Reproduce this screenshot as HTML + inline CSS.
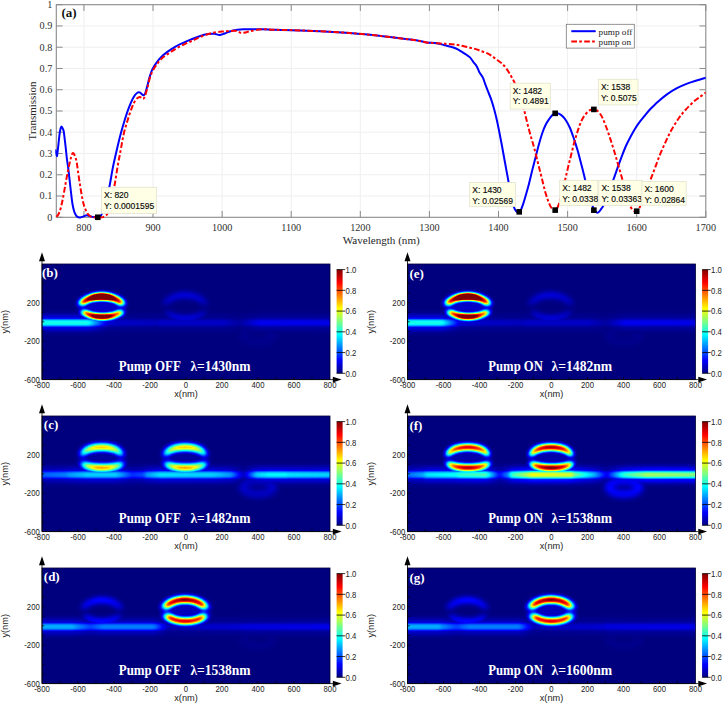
<!DOCTYPE html><html><head><meta charset="utf-8"><style>html,body{margin:0;padding:0;background:#fff;}svg{display:block;}</style></head><body>
<svg width="723" height="705" viewBox="0 0 723 705">
<defs><clipPath id="axclip"><rect x="55.30" y="4.70" width="650.50" height="214.60"/></clipPath>
<filter id="jet" color-interpolation-filters="sRGB" x="0" y="0" width="1" height="1">
<feComponentTransfer>
<feFuncR type="table" tableValues="0 0 0 0 0.5 1 1 1 0.5"/>
<feFuncG type="table" tableValues="0 0 0.5 1 1 1 0.5 0 0"/>
<feFuncB type="table" tableValues="0.5 1 1 1 0.5 0 0 0 0"/>
</feComponentTransfer></filter>
<filter id="bl1_2" color-interpolation-filters="sRGB" x="-30%" y="-60%" width="160%" height="220%"><feGaussianBlur stdDeviation="1.20"/></filter>
<filter id="bl1_4" color-interpolation-filters="sRGB" x="-30%" y="-60%" width="160%" height="220%"><feGaussianBlur stdDeviation="1.40"/></filter>
<filter id="bl1_6" color-interpolation-filters="sRGB" x="-30%" y="-60%" width="160%" height="220%"><feGaussianBlur stdDeviation="1.60"/></filter>
<filter id="bl2_0" color-interpolation-filters="sRGB" x="-30%" y="-60%" width="160%" height="220%"><feGaussianBlur stdDeviation="2.00"/></filter>
<filter id="bl2_5" color-interpolation-filters="sRGB" x="-30%" y="-60%" width="160%" height="220%"><feGaussianBlur stdDeviation="2.50"/></filter>
<filter id="g3" color-interpolation-filters="sRGB" x="-40%" y="-80%" width="180%" height="260%"><feGaussianBlur in="SourceGraphic" stdDeviation="2.00" result="b"/><feFlood flood-color="#000" result="k"/><feComposite in="b" in2="k" operator="over" result="m"/><feComponentTransfer in="m"><feFuncR type="linear" slope="3.000"/><feFuncG type="linear" slope="3.000"/><feFuncB type="linear" slope="3.000"/></feComponentTransfer></filter>
<filter id="g3b" color-interpolation-filters="sRGB" x="-40%" y="-80%" width="180%" height="260%"><feGaussianBlur in="SourceGraphic" stdDeviation="2.40" result="b"/><feFlood flood-color="#000" result="k"/><feComposite in="b" in2="k" operator="over" result="m"/><feComponentTransfer in="m"><feFuncR type="linear" slope="3.000"/><feFuncG type="linear" slope="3.000"/><feFuncB type="linear" slope="3.000"/></feComponentTransfer></filter>
<filter id="gf" color-interpolation-filters="sRGB" x="-40%" y="-80%" width="180%" height="260%"><feGaussianBlur in="SourceGraphic" stdDeviation="2.60" result="b"/><feFlood flood-color="#000" result="k"/><feComposite in="b" in2="k" operator="over" result="m"/><feComponentTransfer in="m"><feFuncR type="linear" slope="1.000"/><feFuncG type="linear" slope="1.000"/><feFuncB type="linear" slope="1.000"/></feComponentTransfer></filter>
<filter id="g1" color-interpolation-filters="sRGB" x="-40%" y="-80%" width="180%" height="260%"><feGaussianBlur in="SourceGraphic" stdDeviation="1.40" result="b"/><feFlood flood-color="#000" result="k"/><feComposite in="b" in2="k" operator="over" result="m"/><feComponentTransfer in="m"><feFuncR type="linear" slope="1.000"/><feFuncG type="linear" slope="1.000"/><feFuncB type="linear" slope="1.000"/></feComponentTransfer></filter>
<filter id="gr3" color-interpolation-filters="sRGB" x="-40%" y="-80%" width="180%" height="260%"><feGaussianBlur in="SourceGraphic" stdDeviation="3.00" result="b"/><feFlood flood-color="#000" result="k"/><feComposite in="b" in2="k" operator="over" result="m"/><feComponentTransfer in="m"><feFuncR type="linear" slope="1.000"/><feFuncG type="linear" slope="1.000"/><feFuncB type="linear" slope="1.000"/></feComponentTransfer></filter>
<linearGradient id="jetgrad" x1="0" y1="0" x2="0" y2="1"><stop offset="0.000" stop-color="#800000"/><stop offset="0.125" stop-color="#ff0000"/><stop offset="0.375" stop-color="#ffff00"/><stop offset="0.500" stop-color="#80ff80"/><stop offset="0.625" stop-color="#00ffff"/><stop offset="0.875" stop-color="#0000ff"/><stop offset="1.000" stop-color="#000080"/></linearGradient></defs>
<rect width="723" height="705" fill="#fff"/>
<path d="M83.94,4.70V217.30 M153.03,4.70V217.30 M222.13,4.70V217.30 M291.23,4.70V217.30 M360.32,4.70V217.30 M429.42,4.70V217.30 M498.51,4.70V217.30 M567.61,4.70V217.30 M636.70,4.70V217.30 M56.30,196.04H705.80 M56.30,174.78H705.80 M56.30,153.52H705.80 M56.30,132.26H705.80 M56.30,111.00H705.80 M56.30,89.74H705.80 M56.30,68.48H705.80 M56.30,47.22H705.80 M56.30,25.96H705.80" stroke="#efefef" stroke-width="1" fill="none"/>
<path d="M83.94,217.30v-6.3 M83.94,4.70v6.3 M153.03,217.30v-6.3 M153.03,4.70v6.3 M222.13,217.30v-6.3 M222.13,4.70v6.3 M291.23,217.30v-6.3 M291.23,4.70v6.3 M360.32,217.30v-6.3 M360.32,4.70v6.3 M429.42,217.30v-6.3 M429.42,4.70v6.3 M498.51,217.30v-6.3 M498.51,4.70v6.3 M567.61,217.30v-6.3 M567.61,4.70v6.3 M636.70,217.30v-6.3 M636.70,4.70v6.3 M705.80,217.30v-6.3 M705.80,4.70v6.3 M56.30,217.30h6.3 M705.80,217.30h-6.3 M56.30,196.04h6.3 M705.80,196.04h-6.3 M56.30,174.78h6.3 M705.80,174.78h-6.3 M56.30,153.52h6.3 M705.80,153.52h-6.3 M56.30,132.26h6.3 M705.80,132.26h-6.3 M56.30,111.00h6.3 M705.80,111.00h-6.3 M56.30,89.74h6.3 M705.80,89.74h-6.3 M56.30,68.48h6.3 M705.80,68.48h-6.3 M56.30,47.22h6.3 M705.80,47.22h-6.3 M56.30,25.96h6.3 M705.80,25.96h-6.3 M56.30,4.70h6.3 M705.80,4.70h-6.3" stroke="#8a8a8a" stroke-width="1" fill="none"/>
<rect x="56.30" y="4.70" width="649.50" height="212.60" fill="none" stroke="#8a8a8a" stroke-width="1.1"/>
<g font-family="Liberation Serif" font-size="10.2" fill="#2e2e2e"><text x="83.94" y="230.5" text-anchor="middle">800</text><text x="153.03" y="230.5" text-anchor="middle">900</text><text x="222.13" y="230.5" text-anchor="middle">1000</text><text x="291.23" y="230.5" text-anchor="middle">1100</text><text x="360.32" y="230.5" text-anchor="middle">1200</text><text x="429.42" y="230.5" text-anchor="middle">1300</text><text x="498.51" y="230.5" text-anchor="middle">1400</text><text x="567.61" y="230.5" text-anchor="middle">1500</text><text x="636.70" y="230.5" text-anchor="middle">1600</text><text x="705.80" y="230.5" text-anchor="middle">1700</text><text x="52.3" y="220.70" text-anchor="end">0</text><text x="52.3" y="199.44" text-anchor="end">0.1</text><text x="52.3" y="178.18" text-anchor="end">0.2</text><text x="52.3" y="156.92" text-anchor="end">0.3</text><text x="52.3" y="135.66" text-anchor="end">0.4</text><text x="52.3" y="114.40" text-anchor="end">0.5</text><text x="52.3" y="93.14" text-anchor="end">0.6</text><text x="52.3" y="71.88" text-anchor="end">0.7</text><text x="52.3" y="50.62" text-anchor="end">0.8</text><text x="52.3" y="29.36" text-anchor="end">0.9</text><text x="52.3" y="8.10" text-anchor="end">1</text></g>
<text x="381.2" y="244.3" text-anchor="middle" font-family="Liberation Serif" font-size="11.1" fill="#262626">Wavelength (nm)</text>
<text transform="translate(35.6,111) rotate(-90)" text-anchor="middle" font-family="Liberation Serif" font-size="11" fill="#262626">Transmission</text>
<text x="61.5" y="16.7" font-family="Liberation Serif" font-weight="bold" font-size="13" fill="#111">(a)</text>
<g clip-path="url(#axclip)">
<path d="M55.30,149.50 C55.55,150.63 56.38,156.22 56.80,156.30 C57.22,156.38 57.47,152.55 57.80,150.00 C58.13,147.45 58.43,144.17 58.80,141.00 C59.17,137.83 59.58,133.38 60.00,131.00 C60.42,128.62 60.87,127.15 61.30,126.70 C61.73,126.25 62.20,127.53 62.60,128.30 C63.00,129.07 63.33,129.38 63.70,131.30 C64.07,133.22 64.45,136.97 64.80,139.80 C65.15,142.63 65.45,145.10 65.80,148.30 C66.15,151.50 66.48,155.62 66.90,159.00 C67.32,162.38 67.70,163.77 68.30,168.60 C68.90,173.43 69.82,182.18 70.50,188.00 C71.18,193.82 71.78,199.58 72.40,203.50 C73.02,207.42 73.55,209.45 74.20,211.50 C74.85,213.55 75.57,214.83 76.30,215.80 C77.03,216.77 77.90,217.03 78.60,217.30 C79.30,217.57 79.77,217.52 80.50,217.40 C81.23,217.28 81.95,216.95 83.00,216.60 C84.05,216.25 85.63,215.37 86.80,215.30 C87.97,215.23 88.80,215.90 90.00,216.20 C91.20,216.50 92.67,216.92 94.00,217.10 C95.33,217.28 97.00,217.40 98.00,217.30 C99.00,217.20 99.33,217.13 100.00,216.50 C100.67,215.87 101.08,215.92 102.00,213.50 C102.92,211.08 104.28,206.37 105.50,202.00 C106.72,197.63 108.07,193.07 109.30,187.30 C110.53,181.53 111.63,173.70 112.90,167.40 C114.17,161.10 115.58,155.13 116.90,149.50 C118.22,143.87 119.48,138.57 120.80,133.60 C122.12,128.63 123.47,124.00 124.80,119.70 C126.13,115.40 127.32,111.60 128.80,107.80 C130.28,104.00 132.22,99.45 133.70,96.90 C135.18,94.35 136.65,93.22 137.70,92.50 C138.75,91.78 139.08,92.15 140.00,92.60 C140.92,93.05 142.32,95.12 143.20,95.20 C144.08,95.28 144.60,94.70 145.30,93.10 C146.00,91.50 146.68,88.27 147.40,85.60 C148.12,82.93 148.80,79.75 149.60,77.10 C150.40,74.45 151.13,72.00 152.20,69.70 C153.27,67.40 154.48,65.43 156.00,63.30 C157.52,61.17 159.35,58.85 161.30,56.90 C163.25,54.95 165.40,53.28 167.70,51.60 C170.00,49.92 172.62,48.22 175.10,46.80 C177.58,45.38 179.93,44.33 182.60,43.10 C185.27,41.87 188.27,40.55 191.10,39.40 C193.93,38.25 196.77,37.08 199.60,36.20 C202.43,35.32 205.65,34.52 208.10,34.10 C210.55,33.68 212.40,33.53 214.30,33.70 C216.20,33.87 217.77,35.13 219.50,35.10 C221.23,35.07 222.45,34.28 224.70,33.50 C226.95,32.72 229.88,31.10 233.00,30.40 C236.12,29.70 238.57,29.48 243.40,29.30 C248.23,29.12 256.82,29.22 262.00,29.30 C267.18,29.38 268.17,29.62 274.50,29.80 C280.83,29.98 288.83,29.97 300.00,30.40 C311.17,30.83 331.13,31.78 341.50,32.40 C351.87,33.02 355.28,33.47 362.20,34.10 C369.12,34.73 376.08,35.43 383.00,36.20 C389.92,36.97 398.17,38.02 403.70,38.70 C409.23,39.38 412.38,39.68 416.20,40.30 C420.02,40.92 423.15,41.92 426.60,42.40 C430.05,42.88 433.83,42.72 436.90,43.20 C439.97,43.68 442.65,44.70 445.00,45.30 C447.35,45.90 449.17,46.27 451.00,46.80 C452.83,47.33 454.23,47.70 456.00,48.50 C457.77,49.30 459.93,50.60 461.60,51.60 C463.27,52.60 464.60,53.53 466.00,54.50 C467.40,55.47 468.77,56.13 470.00,57.40 C471.23,58.67 472.27,60.60 473.40,62.10 C474.53,63.60 475.80,64.70 476.80,66.40 C477.80,68.10 478.40,70.47 479.40,72.30 C480.40,74.13 481.82,75.40 482.80,77.40 C483.78,79.40 484.45,82.02 485.30,84.30 C486.15,86.58 486.97,88.70 487.90,91.10 C488.83,93.50 489.92,95.88 490.90,98.70 C491.88,101.52 492.85,104.62 493.80,108.00 C494.75,111.38 495.68,115.00 496.60,119.00 C497.52,123.00 498.40,127.50 499.30,132.00 C500.20,136.50 501.10,141.17 502.00,146.00 C502.90,150.83 503.80,156.07 504.70,161.00 C505.60,165.93 506.52,170.77 507.40,175.60 C508.28,180.43 509.18,185.50 510.00,190.00 C510.82,194.50 511.47,199.35 512.30,202.60 C513.13,205.85 514.13,207.90 515.00,209.50 C515.87,211.10 516.70,211.82 517.50,212.20 C518.30,212.58 519.13,212.42 519.80,211.80 C520.47,211.18 520.87,210.03 521.50,208.50 C522.13,206.97 522.80,205.10 523.60,202.60 C524.40,200.10 525.40,196.65 526.30,193.50 C527.20,190.35 528.00,187.62 529.00,183.70 C530.00,179.78 531.18,174.48 532.30,170.00 C533.42,165.52 534.58,161.13 535.70,156.80 C536.82,152.47 537.87,148.05 539.00,144.00 C540.13,139.95 541.37,135.75 542.50,132.50 C543.63,129.25 544.68,126.75 545.80,124.50 C546.92,122.25 548.13,120.55 549.20,119.00 C550.27,117.45 551.20,116.15 552.20,115.20 C553.20,114.25 554.10,113.57 555.20,113.30 C556.30,113.03 557.48,113.03 558.80,113.60 C560.12,114.17 561.80,115.38 563.10,116.70 C564.40,118.02 565.45,119.62 566.60,121.50 C567.75,123.38 568.97,125.67 570.00,128.00 C571.03,130.33 571.87,132.85 572.80,135.50 C573.73,138.15 574.73,141.18 575.60,143.90 C576.47,146.62 577.25,149.15 578.00,151.80 C578.75,154.45 579.37,157.02 580.10,159.80 C580.83,162.58 581.63,165.48 582.40,168.50 C583.17,171.52 583.92,174.73 584.70,177.90 C585.48,181.07 586.30,184.40 587.10,187.50 C587.90,190.60 588.68,193.67 589.50,196.50 C590.32,199.33 591.22,202.28 592.00,204.50 C592.78,206.72 593.45,208.47 594.20,209.80 C594.95,211.13 595.78,212.10 596.50,212.50 C597.22,212.90 597.78,212.70 598.50,212.20 C599.22,211.70 599.93,210.73 600.80,209.50 C601.67,208.27 602.50,207.55 603.70,204.80 C604.90,202.05 606.38,197.18 608.00,193.00 C609.62,188.82 611.75,184.07 613.40,179.70 C615.05,175.33 616.58,170.48 617.90,166.80 C619.22,163.12 619.97,161.07 621.30,157.60 C622.63,154.13 624.38,149.43 625.90,146.00 C627.42,142.57 628.90,139.83 630.40,137.00 C631.90,134.17 633.38,131.47 634.90,129.00 C636.42,126.53 637.98,124.28 639.50,122.20 C641.02,120.12 642.30,118.58 644.00,116.50 C645.70,114.42 647.80,111.77 649.70,109.70 C651.60,107.63 653.68,105.70 655.40,104.10 C657.12,102.50 658.13,101.68 660.00,100.10 C661.87,98.52 663.78,96.58 666.60,94.60 C669.42,92.62 673.48,90.03 676.90,88.20 C680.32,86.37 683.70,84.93 687.10,83.60 C690.50,82.27 694.18,81.18 697.30,80.20 C700.42,79.22 704.38,78.12 705.80,77.70" stroke="#0000ff" stroke-width="2" fill="none" stroke-linejoin="round"/>
<path d="M56.30,216.80 C56.62,216.47 57.50,216.10 58.20,214.80 C58.90,213.50 59.72,211.73 60.50,209.00 C61.28,206.27 62.07,202.57 62.90,198.40 C63.73,194.23 64.63,188.73 65.50,184.00 C66.37,179.27 67.33,173.82 68.10,170.00 C68.87,166.18 69.57,163.35 70.10,161.10 C70.63,158.85 70.88,157.82 71.30,156.50 C71.72,155.18 72.18,153.68 72.60,153.20 C73.02,152.72 73.42,153.13 73.80,153.60 C74.18,154.07 74.45,154.75 74.90,156.00 C75.35,157.25 76.02,158.77 76.50,161.10 C76.98,163.43 77.22,166.02 77.80,170.00 C78.38,173.98 79.25,180.27 80.00,185.00 C80.75,189.73 81.55,194.73 82.30,198.40 C83.05,202.07 83.63,204.48 84.50,207.00 C85.37,209.52 86.58,212.00 87.50,213.50 C88.42,215.00 89.13,215.38 90.00,216.00 C90.87,216.62 91.70,216.95 92.70,217.20 C93.70,217.45 94.78,217.45 96.00,217.50 C97.22,217.55 98.83,217.57 100.00,217.50 C101.17,217.43 102.08,217.38 103.00,217.10 C103.92,216.82 104.68,216.47 105.50,215.80 C106.32,215.13 107.15,214.57 107.90,213.10 C108.65,211.63 109.33,209.32 110.00,207.00 C110.67,204.68 111.08,203.15 111.90,199.20 C112.72,195.25 113.92,188.93 114.90,183.30 C115.88,177.67 116.82,171.03 117.80,165.40 C118.78,159.77 119.80,154.80 120.80,149.50 C121.80,144.20 122.63,138.57 123.80,133.60 C124.97,128.63 126.47,124.00 127.80,119.70 C129.13,115.40 130.48,111.10 131.80,107.80 C133.12,104.50 134.38,101.72 135.70,99.90 C137.02,98.08 138.53,97.07 139.70,96.90 C140.87,96.73 141.87,98.90 142.70,98.90 C143.53,98.90 143.92,98.75 144.70,96.90 C145.48,95.05 146.50,91.10 147.40,87.80 C148.30,84.50 149.12,80.12 150.10,77.10 C151.08,74.08 152.05,72.00 153.30,69.70 C154.55,67.40 156.10,65.25 157.60,63.30 C159.10,61.35 160.27,59.77 162.30,58.00 C164.33,56.23 167.32,54.38 169.80,52.70 C172.28,51.02 174.55,49.42 177.20,47.90 C179.85,46.38 183.03,44.85 185.70,43.60 C188.37,42.35 190.88,41.47 193.20,40.40 C195.52,39.33 196.43,38.45 199.60,37.20 C202.77,35.95 208.02,33.87 212.20,32.90 C216.38,31.93 220.90,31.75 224.70,31.40 C228.50,31.05 232.70,30.73 235.00,30.80 C237.30,30.87 237.45,31.45 238.50,31.80 C239.55,32.15 240.22,32.77 241.30,32.90 C242.38,33.03 243.62,32.85 245.00,32.60 C246.38,32.35 246.77,31.95 249.60,31.40 C252.43,30.85 257.85,29.57 262.00,29.30 C266.15,29.03 268.17,29.62 274.50,29.80 C280.83,29.98 288.83,29.97 300.00,30.40 C311.17,30.83 331.13,31.78 341.50,32.40 C351.87,33.02 355.28,33.47 362.20,34.10 C369.12,34.73 376.08,35.43 383.00,36.20 C389.92,36.97 398.17,38.02 403.70,38.70 C409.23,39.38 412.38,39.68 416.20,40.30 C420.02,40.92 423.15,41.92 426.60,42.40 C430.05,42.88 433.45,42.95 436.90,43.20 C440.35,43.45 444.08,43.63 447.30,43.90 C450.52,44.17 453.58,44.45 456.20,44.80 C458.82,45.15 460.70,45.52 463.00,46.00 C465.30,46.48 467.98,47.22 470.00,47.70 C472.02,48.18 473.25,48.33 475.10,48.90 C476.95,49.47 479.12,50.38 481.10,51.10 C483.08,51.82 485.17,52.35 487.00,53.20 C488.83,54.05 490.40,55.07 492.10,56.20 C493.80,57.33 495.50,58.73 497.20,60.00 C498.90,61.27 500.73,62.32 502.30,63.80 C503.87,65.28 505.17,66.92 506.60,68.90 C508.03,70.88 509.67,73.60 510.90,75.70 C512.13,77.80 512.98,79.28 514.00,81.50 C515.02,83.72 515.95,86.25 517.00,89.00 C518.05,91.75 519.20,94.80 520.30,98.00 C521.40,101.20 522.60,104.70 523.60,108.20 C524.60,111.70 525.40,115.40 526.30,119.00 C527.20,122.60 528.10,126.42 529.00,129.80 C529.90,133.18 530.80,136.15 531.70,139.30 C532.60,142.45 533.50,145.33 534.40,148.70 C535.30,152.07 536.20,155.92 537.10,159.50 C538.00,163.08 538.90,166.62 539.80,170.20 C540.70,173.78 541.60,177.40 542.50,181.00 C543.40,184.60 544.28,188.55 545.20,191.80 C546.12,195.05 547.10,198.03 548.00,200.50 C548.90,202.97 549.77,205.08 550.60,206.60 C551.43,208.12 552.23,208.98 553.00,209.60 C553.77,210.22 554.45,210.65 555.20,210.30 C555.95,209.95 556.55,209.55 557.50,207.50 C558.45,205.45 559.77,202.00 560.90,198.00 C562.03,194.00 563.17,188.37 564.30,183.50 C565.43,178.63 566.57,173.55 567.70,168.80 C568.83,164.05 569.97,159.53 571.10,155.00 C572.23,150.47 573.37,145.70 574.50,141.60 C575.63,137.50 576.77,133.80 577.90,130.40 C579.03,127.00 580.17,123.72 581.30,121.20 C582.43,118.68 583.57,116.92 584.70,115.30 C585.83,113.68 587.05,112.45 588.10,111.50 C589.15,110.55 590.05,109.98 591.00,109.60 C591.95,109.22 592.80,109.05 593.80,109.20 C594.80,109.35 595.87,109.62 597.00,110.50 C598.13,111.38 599.57,113.00 600.60,114.50 C601.63,116.00 602.33,117.58 603.20,119.50 C604.07,121.42 604.97,123.83 605.80,126.00 C606.63,128.17 607.42,130.27 608.20,132.50 C608.98,134.73 609.72,136.98 610.50,139.40 C611.28,141.82 612.10,144.43 612.90,147.00 C613.70,149.57 614.58,152.38 615.30,154.80 C616.02,157.22 616.55,159.27 617.20,161.50 C617.85,163.73 618.55,165.97 619.20,168.20 C619.85,170.43 620.47,172.67 621.10,174.90 C621.73,177.13 622.20,178.72 623.00,181.60 C623.80,184.48 624.93,188.68 625.90,192.20 C626.87,195.72 627.85,199.98 628.80,202.70 C629.75,205.42 630.65,207.07 631.60,208.50 C632.55,209.93 633.68,210.80 634.50,211.30 C635.32,211.80 635.83,211.72 636.50,211.50 C637.17,211.28 637.75,211.25 638.50,210.00 C639.25,208.75 640.00,206.50 641.00,204.00 C642.00,201.50 643.03,198.73 644.50,195.00 C645.97,191.27 648.10,185.98 649.80,181.60 C651.50,177.22 653.03,173.12 654.70,168.70 C656.37,164.28 657.95,159.63 659.80,155.10 C661.65,150.57 663.82,145.75 665.80,141.50 C667.78,137.25 669.57,133.43 671.70,129.60 C673.83,125.77 676.32,121.77 678.60,118.50 C680.88,115.23 682.85,112.83 685.40,110.00 C687.95,107.17 691.35,103.77 693.90,101.50 C696.45,99.23 698.72,97.90 700.70,96.40 C702.68,94.90 704.95,93.15 705.80,92.50" stroke="#ff0000" stroke-width="2" fill="none" stroke-dasharray="5.7 2.2 2.7 2.3"/>
</g>
<rect x="566.3" y="24.3" width="68" height="23.8" fill="#fff" stroke="#7a7a7a" stroke-width="0.8"/>
<path d="M571.3,31.2H595.7" stroke="#0000ff" stroke-width="2"/>
<path d="M571.3,41.6H595.7" stroke="#ff0000" stroke-width="2" stroke-dasharray="5.7 2.2 2.7 2.3"/>
<g font-family="Liberation Serif" font-size="9.2" fill="#222"><text x="598.6" y="34.5">pump off</text><text x="598.6" y="45">pump on</text></g>
<rect x="101.40" y="187.30" width="55.20" height="26.10" fill="#ffffe6" stroke="#e3e3cf" stroke-width="0.8"/>
<g font-family="Liberation Sans" font-size="8.5" fill="#0a0a0a" stroke="#0a0a0a" stroke-width="0.15"><text x="104.00" y="197.90">X: 820</text><text x="104.00" y="208.50">Y: 0.0001595</text></g>
<rect x="469.70" y="182.40" width="45.80" height="24.20" fill="#ffffe6" stroke="#e3e3cf" stroke-width="0.8"/>
<g font-family="Liberation Sans" font-size="8.5" fill="#0a0a0a" stroke="#0a0a0a" stroke-width="0.15"><text x="472.30" y="193.00">X: 1430</text><text x="472.30" y="203.60">Y: 0.02569</text></g>
<rect x="510.20" y="83.20" width="40.10" height="25.90" fill="#ffffe6" stroke="#e3e3cf" stroke-width="0.8"/>
<g font-family="Liberation Sans" font-size="8.5" fill="#0a0a0a" stroke="#0a0a0a" stroke-width="0.15"><text x="512.80" y="93.80">X: 1482</text><text x="512.80" y="104.40">Y: 0.4891</text></g>
<rect x="559.70" y="180.30" width="38.10" height="25.30" fill="#ffffe6" stroke="#e3e3cf" stroke-width="0.8"/>
<g font-family="Liberation Sans" font-size="8.5" fill="#0a0a0a" stroke="#0a0a0a" stroke-width="0.15"><text x="562.30" y="190.90">X: 1482</text><text x="562.30" y="201.50">Y: 0.0338</text></g>
<rect x="598.30" y="79.30" width="39.70" height="25.60" fill="#ffffe6" stroke="#e3e3cf" stroke-width="0.8"/>
<g font-family="Liberation Sans" font-size="8.5" fill="#0a0a0a" stroke="#0a0a0a" stroke-width="0.15"><text x="600.90" y="89.90">X: 1538</text><text x="600.90" y="100.50">Y: 0.5075</text></g>
<rect x="598.80" y="180.30" width="43.80" height="25.30" fill="#ffffe6" stroke="#e3e3cf" stroke-width="0.8"/>
<g font-family="Liberation Sans" font-size="8.5" fill="#0a0a0a" stroke="#0a0a0a" stroke-width="0.15"><text x="601.40" y="190.90">X: 1538</text><text x="601.40" y="201.50">Y: 0.03363</text></g>
<rect x="641.80" y="181.40" width="44.40" height="23.80" fill="#ffffe6" stroke="#e3e3cf" stroke-width="0.8"/>
<g font-family="Liberation Sans" font-size="8.5" fill="#0a0a0a" stroke="#0a0a0a" stroke-width="0.15"><text x="644.40" y="192.00">X: 1600</text><text x="644.40" y="202.60">Y: 0.02864</text></g>
<rect x="94.96" y="214.47" width="5.6" height="5.6" fill="#000"/>
<rect x="516.44" y="209.04" width="5.6" height="5.6" fill="#000"/>
<rect x="552.37" y="110.52" width="5.6" height="5.6" fill="#000"/>
<rect x="552.37" y="207.31" width="5.6" height="5.6" fill="#000"/>
<rect x="591.06" y="106.61" width="5.6" height="5.6" fill="#000"/>
<rect x="591.06" y="207.35" width="5.6" height="5.6" fill="#000"/>
<rect x="633.90" y="208.41" width="5.6" height="5.6" fill="#000"/>
<clipPath id="clip_b"><rect x="42.00" y="264.00" width="288.00" height="115.60"/></clipPath>
<g clip-path="url(#clip_b)"><g filter="url(#jet)">
<rect x="37.00" y="259.00" width="298.00" height="125.60" fill="rgb(0,0,0)"/>
<linearGradient id="wg42_264" gradientUnits="userSpaceOnUse" x1="38.00" x2="334.00" y1="0" y2="0"><stop offset="0.0135" stop-color="rgb(102,102,102)"/><stop offset="0.1686" stop-color="rgb(102,102,102)"/><stop offset="0.1686" stop-color="rgb(102,102,102)"/><stop offset="0.2324" stop-color="rgb(23,23,23)"/><stop offset="0.2324" stop-color="rgb(23,23,23)"/><stop offset="0.2689" stop-color="rgb(18,18,18)"/><stop offset="0.2689" stop-color="rgb(18,18,18)"/><stop offset="0.4088" stop-color="rgb(15,15,15)"/><stop offset="0.4088" stop-color="rgb(18,18,18)"/><stop offset="0.6216" stop-color="rgb(18,18,18)"/><stop offset="0.6216" stop-color="rgb(18,18,18)"/><stop offset="0.6824" stop-color="rgb(8,8,8)"/><stop offset="0.6824" stop-color="rgb(8,8,8)"/><stop offset="0.7432" stop-color="rgb(26,26,26)"/><stop offset="0.7432" stop-color="rgb(28,28,28)"/><stop offset="0.9865" stop-color="rgb(26,26,26)"/></linearGradient><g filter="url(#gf)" style="mix-blend-mode:lighten" opacity="0.30"><rect x="38.00" y="315.36" width="296.00" height="14.80" fill="url(#wg42_264)"/></g><g filter="url(#g1)" style="mix-blend-mode:lighten"><rect x="38.00" y="319.06" width="296.00" height="7.40" fill="url(#wg42_264)"/></g><linearGradient id="rg1" gradientUnits="userSpaceOnUse" x1="158.10" x2="212.10" y1="0" y2="0"><stop offset="0.000" stop-color="rgb(8,8,8)"/><stop offset="0.080" stop-color="rgb(15,15,15)"/><stop offset="0.160" stop-color="rgb(19,19,19)"/><stop offset="0.260" stop-color="rgb(25,25,25)"/><stop offset="0.380" stop-color="rgb(29,29,29)"/><stop offset="0.500" stop-color="rgb(31,31,31)"/><stop offset="0.620" stop-color="rgb(29,29,29)"/><stop offset="0.740" stop-color="rgb(25,25,25)"/><stop offset="0.840" stop-color="rgb(19,19,19)"/><stop offset="0.920" stop-color="rgb(15,15,15)"/><stop offset="1.000" stop-color="rgb(8,8,8)"/></linearGradient><g filter="url(#gf)" style="mix-blend-mode:lighten"><path d="M161.35,304.50 L161.68,303.65 L162.08,302.82 L162.56,302.01 L163.11,301.21 L163.73,300.44 L164.41,299.69 L165.17,298.96 L165.99,298.27 L166.86,297.60 L167.80,296.96 L168.79,296.36 L169.84,295.80 L170.93,295.27 L172.07,294.79 L173.25,294.35 L174.47,293.94 L175.73,293.59 L177.01,293.27 L178.32,293.01 L179.65,292.79 L181.00,292.62 L182.36,292.50 L183.73,292.42 L185.10,292.40 L186.47,292.42 L187.84,292.50 L189.20,292.62 L190.55,292.79 L191.88,293.01 L193.19,293.27 L194.47,293.59 L195.73,293.94 L196.95,294.35 L198.13,294.79 L199.27,295.27 L200.36,295.80 L201.41,296.36 L202.40,296.96 L203.34,297.60 L204.21,298.27 L205.03,298.96 L205.79,299.69 L206.47,300.44 L207.09,301.21 L207.64,302.01 L208.12,302.82 L208.52,303.65 L208.85,304.50 L201.95,304.50 L201.62,304.02 L201.26,303.54 L200.85,303.09 L200.40,302.64 L199.91,302.21 L199.37,301.79 L198.80,301.38 L198.20,301.00 L197.56,300.63 L196.88,300.28 L196.18,299.95 L195.44,299.64 L194.68,299.36 L193.89,299.09 L193.08,298.85 L192.25,298.63 L191.40,298.44 L190.53,298.27 L189.65,298.13 L188.75,298.01 L187.85,297.92 L186.94,297.85 L186.02,297.81 L185.10,297.80 L184.18,297.81 L183.26,297.85 L182.35,297.92 L181.45,298.01 L180.55,298.13 L179.67,298.27 L178.80,298.44 L177.95,298.63 L177.12,298.85 L176.31,299.09 L175.52,299.36 L174.76,299.64 L174.02,299.95 L173.32,300.28 L172.64,300.63 L172.00,301.00 L171.40,301.38 L170.83,301.79 L170.29,302.21 L169.80,302.64 L169.35,303.09 L168.94,303.54 L168.58,304.02 L168.25,304.50Z" fill="url(#rg1)"/><path d="M163.42,311.52 L163.81,312.20 L164.25,312.87 L164.76,313.52 L165.33,314.16 L165.95,314.78 L166.63,315.38 L167.37,315.96 L168.16,316.51 L169.00,317.04 L169.88,317.54 L170.82,318.01 L171.79,318.46 L172.80,318.87 L173.86,319.25 L174.94,319.60 L176.06,319.92 L177.20,320.20 L178.37,320.44 L179.56,320.65 L180.77,320.82 L181.99,320.96 L183.22,321.05 L184.46,321.11 L185.70,321.13 L186.94,321.11 L188.18,321.05 L189.41,320.96 L190.63,320.82 L191.84,320.65 L193.03,320.44 L194.20,320.20 L195.34,319.92 L196.46,319.60 L197.54,319.25 L198.60,318.87 L199.61,318.46 L200.58,318.01 L201.52,317.54 L202.40,317.04 L203.24,316.51 L204.03,315.96 L204.77,315.38 L205.45,314.78 L206.07,314.16 L206.64,313.52 L207.15,312.87 L207.59,312.20 L207.98,311.52 L200.93,311.52 L200.54,311.83 L200.13,312.13 L199.69,312.43 L199.22,312.71 L198.72,312.99 L198.20,313.25 L197.65,313.51 L197.08,313.75 L196.48,313.98 L195.87,314.20 L195.23,314.40 L194.57,314.59 L193.90,314.77 L193.20,314.93 L192.50,315.08 L191.78,315.22 L191.04,315.34 L190.30,315.44 L189.55,315.53 L188.79,315.60 L188.02,315.65 L187.25,315.70 L186.48,315.72 L185.70,315.73 L184.92,315.72 L184.15,315.70 L183.38,315.65 L182.61,315.60 L181.85,315.53 L181.10,315.44 L180.36,315.34 L179.62,315.22 L178.90,315.08 L178.20,314.93 L177.50,314.77 L176.83,314.59 L176.17,314.40 L175.53,314.20 L174.92,313.98 L174.32,313.75 L173.75,313.51 L173.20,313.25 L172.68,312.99 L172.18,312.71 L171.71,312.43 L171.27,312.13 L170.86,311.83 L170.47,311.52Z" fill="url(#rg1)"/></g><g filter="url(#gr3)" style="mix-blend-mode:lighten"><ellipse cx="258.00" cy="335.29" rx="16" ry="6.8" fill="none" stroke="rgb(6,6,6)" stroke-width="5"/></g><linearGradient id="rg2" gradientUnits="userSpaceOnUse" x1="76.76" x2="126.76" y1="0" y2="0"><stop offset="0.000" stop-color="rgb(21,21,21)"/><stop offset="0.020" stop-color="rgb(35,35,35)"/><stop offset="0.060" stop-color="rgb(63,63,63)"/><stop offset="0.100" stop-color="rgb(83,83,83)"/><stop offset="0.140" stop-color="rgb(96,96,96)"/><stop offset="0.200" stop-color="rgb(108,108,108)"/><stop offset="0.260" stop-color="rgb(129,129,129)"/><stop offset="0.380" stop-color="rgb(188,188,188)"/><stop offset="0.500" stop-color="rgb(209,209,209)"/><stop offset="0.620" stop-color="rgb(188,188,188)"/><stop offset="0.740" stop-color="rgb(129,129,129)"/><stop offset="0.800" stop-color="rgb(108,108,108)"/><stop offset="0.860" stop-color="rgb(96,96,96)"/><stop offset="0.900" stop-color="rgb(83,83,83)"/><stop offset="0.940" stop-color="rgb(63,63,63)"/><stop offset="0.980" stop-color="rgb(35,35,35)"/><stop offset="1.000" stop-color="rgb(21,21,21)"/></linearGradient><g filter="url(#gf)" style="mix-blend-mode:lighten"><ellipse cx="102.06" cy="308.04" rx="21.00" ry="10.50" fill="rgb(18,18,18)"/></g><g filter="url(#g3)" style="mix-blend-mode:lighten"><path d="M77.39,304.74 L77.75,304.01 L78.17,303.29 L78.67,302.59 L79.25,301.91 L79.89,301.24 L80.61,300.59 L81.39,299.97 L82.23,299.37 L83.13,298.80 L84.10,298.25 L85.12,297.74 L86.19,297.25 L87.31,296.80 L88.47,296.39 L89.68,296.00 L90.92,295.66 L92.20,295.35 L93.51,295.09 L94.85,294.86 L96.20,294.67 L97.58,294.52 L98.96,294.42 L100.36,294.36 L101.76,294.34 L103.16,294.36 L104.56,294.42 L105.94,294.52 L107.32,294.67 L108.67,294.86 L110.01,295.09 L111.32,295.35 L112.60,295.66 L113.84,296.00 L115.05,296.39 L116.21,296.80 L117.33,297.25 L118.40,297.74 L119.42,298.25 L120.39,298.80 L121.29,299.37 L122.13,299.97 L122.91,300.59 L123.63,301.24 L124.27,301.91 L124.85,302.59 L125.35,303.29 L125.77,304.01 L126.13,304.74 L119.18,304.74 L118.84,304.31 L118.45,303.90 L118.02,303.49 L117.55,303.10 L117.03,302.71 L116.48,302.35 L115.89,301.99 L115.26,301.65 L114.60,301.33 L113.90,301.02 L113.17,300.73 L112.41,300.46 L111.62,300.21 L110.81,299.97 L109.98,299.76 L109.12,299.57 L108.24,299.40 L107.35,299.25 L106.44,299.12 L105.52,299.02 L104.59,298.94 L103.65,298.88 L102.71,298.85 L101.76,298.84 L100.81,298.85 L99.87,298.88 L98.93,298.94 L98.00,299.02 L97.08,299.12 L96.17,299.25 L95.28,299.40 L94.40,299.57 L93.54,299.76 L92.71,299.97 L91.90,300.21 L91.11,300.46 L90.35,300.73 L89.62,301.02 L88.92,301.33 L88.26,301.65 L87.63,301.99 L87.04,302.35 L86.49,302.71 L85.97,303.10 L85.50,303.49 L85.07,303.90 L84.68,304.31 L84.34,304.74Z" fill="url(#rg2)"/><path d="M79.55,311.04 L79.97,311.56 L80.46,312.07 L81.00,312.57 L81.60,313.05 L82.26,313.53 L82.97,313.98 L83.73,314.42 L84.55,314.84 L85.42,315.24 L86.33,315.62 L87.28,315.98 L88.28,316.32 L89.31,316.63 L90.38,316.92 L91.48,317.18 L92.62,317.42 L93.78,317.63 L94.96,317.82 L96.16,317.98 L97.38,318.10 L98.61,318.21 L99.86,318.28 L101.11,318.32 L102.36,318.34 L103.61,318.32 L104.86,318.28 L106.11,318.21 L107.34,318.10 L108.56,317.98 L109.76,317.82 L110.94,317.63 L112.10,317.42 L113.24,317.18 L114.34,316.92 L115.41,316.63 L116.44,316.32 L117.44,315.98 L118.39,315.62 L119.30,315.24 L120.17,314.84 L120.99,314.42 L121.75,313.98 L122.46,313.53 L123.12,313.05 L123.72,312.57 L124.26,312.07 L124.75,311.56 L125.17,311.04 L118.07,311.04 L117.70,311.34 L117.29,311.65 L116.85,311.94 L116.38,312.22 L115.88,312.50 L115.35,312.76 L114.79,313.01 L114.20,313.26 L113.59,313.49 L112.96,313.70 L112.30,313.91 L111.62,314.10 L110.92,314.28 L110.20,314.44 L109.47,314.59 L108.72,314.72 L107.95,314.84 L107.18,314.95 L106.39,315.03 L105.59,315.11 L104.79,315.16 L103.98,315.20 L103.17,315.23 L102.36,315.24 L101.55,315.23 L100.74,315.20 L99.93,315.16 L99.13,315.11 L98.33,315.03 L97.54,314.95 L96.77,314.84 L96.00,314.72 L95.25,314.59 L94.52,314.44 L93.80,314.28 L93.10,314.10 L92.42,313.91 L91.76,313.70 L91.13,313.49 L90.52,313.26 L89.93,313.01 L89.37,312.76 L88.84,312.50 L88.34,312.22 L87.87,311.94 L87.43,311.65 L87.02,311.34 L86.65,311.04Z" fill="url(#rg2)"/></g>
</g></g>
<rect x="42.00" y="264.00" width="288.00" height="115.60" fill="none" stroke="#000033" stroke-width="0.8"/>
<path d="M60.00,379.60v-2.2 M78.00,379.60v-2.2 M96.00,379.60v-2.2 M114.00,379.60v-2.2 M132.00,379.60v-2.2 M150.00,379.60v-2.2 M168.00,379.60v-2.2 M186.00,379.60v-2.2 M204.00,379.60v-2.2 M222.00,379.60v-2.2 M240.00,379.60v-2.2 M258.00,379.60v-2.2 M276.00,379.60v-2.2 M294.00,379.60v-2.2 M312.00,379.60v-2.2 M42.00,369.97h2.2 M42.00,360.33h2.2 M42.00,350.70h2.2 M42.00,341.07h2.2 M42.00,331.43h2.2 M42.00,321.80h2.2 M42.00,312.17h2.2 M42.00,302.53h2.2 M42.00,292.90h2.2 M42.00,283.27h2.2 M42.00,273.63h2.2" stroke="#000" stroke-width="0.8" fill="none"/>
<path d="M42.00,379.60V261.00 M42.00,379.60H333.00" stroke="#000" stroke-width="0.8"/>
<path d="M42.00,252.30L39.00,261.20L45.00,261.20Z" fill="#000"/>
<path d="M341.60,379.60L332.80,376.80L332.80,382.40Z" fill="#000"/>
<g font-family="Liberation Sans" font-size="9.40" fill="#222"><text transform="translate(42.00,388.20) scale(0.820,1)" text-anchor="middle">-800</text><text transform="translate(78.00,388.20) scale(0.820,1)" text-anchor="middle">-600</text><text transform="translate(114.00,388.20) scale(0.820,1)" text-anchor="middle">-400</text><text transform="translate(150.00,388.20) scale(0.820,1)" text-anchor="middle">-200</text><text transform="translate(186.00,388.20) scale(0.820,1)" text-anchor="middle">0</text><text transform="translate(222.00,388.20) scale(0.820,1)" text-anchor="middle">200</text><text transform="translate(258.00,388.20) scale(0.820,1)" text-anchor="middle">400</text><text transform="translate(294.00,388.20) scale(0.820,1)" text-anchor="middle">600</text><text transform="translate(330.00,388.20) scale(0.820,1)" text-anchor="middle">800</text><text transform="translate(39.70,305.73) scale(0.820,1)" text-anchor="end">200</text><text transform="translate(39.70,344.27) scale(0.820,1)" text-anchor="end">-200</text><text transform="translate(39.70,382.80) scale(0.820,1)" text-anchor="end">-600</text></g>
<text x="186.00" y="396.60" text-anchor="middle" font-family="Liberation Sans" font-size="9.2" fill="#222">x(nm)</text>
<text transform="translate(8.20,321.80) rotate(-90)" text-anchor="middle" font-family="Liberation Sans" font-size="9.2" fill="#222">y(nm)</text>
<text x="42.00" y="276.90" font-family="Liberation Serif" font-weight="bold" font-size="13" fill="#fff">(b)</text>
<g font-family="Liberation Serif" font-weight="bold" font-size="13.6" fill="#fff"><text x="118.80" y="370.80" textLength="62.0" lengthAdjust="spacingAndGlyphs">Pump OFF</text><text x="190.40" y="370.80" textLength="60.2" lengthAdjust="spacingAndGlyphs">&#955;=1430nm</text></g>
<rect x="336.60" y="269.60" width="6" height="103.70" fill="url(#jetgrad)"/>
<path d="M336.60,373.30H345.20 M336.60,352.56H345.20 M336.60,331.82H345.20 M336.60,311.08H345.20 M336.60,290.34H345.20 M336.60,269.60H345.20" stroke="#000" stroke-width="0.8"/>
<g font-family="Liberation Sans" font-size="9.40" fill="#222"><text transform="translate(345.60,376.50) scale(0.820,1)">0.0</text><text transform="translate(345.60,355.76) scale(0.820,1)">0.2</text><text transform="translate(345.60,335.02) scale(0.820,1)">0.4</text><text transform="translate(345.60,314.28) scale(0.820,1)">0.6</text><text transform="translate(345.60,293.54) scale(0.820,1)">0.8</text><text transform="translate(345.60,272.80) scale(0.820,1)">1.0</text></g>
<clipPath id="clip_c"><rect x="42.00" y="416.00" width="288.00" height="115.60"/></clipPath>
<g clip-path="url(#clip_c)"><g filter="url(#jet)">
<rect x="37.00" y="411.00" width="298.00" height="125.60" fill="rgb(0,0,0)"/>
<linearGradient id="wg42_416" gradientUnits="userSpaceOnUse" x1="38.00" x2="334.00" y1="0" y2="0"><stop offset="0.0135" stop-color="rgb(56,56,56)"/><stop offset="0.0986" stop-color="rgb(64,64,64)"/><stop offset="0.0986" stop-color="rgb(69,69,69)"/><stop offset="0.1595" stop-color="rgb(82,82,82)"/><stop offset="0.1595" stop-color="rgb(84,84,84)"/><stop offset="0.2628" stop-color="rgb(84,84,84)"/><stop offset="0.2628" stop-color="rgb(84,84,84)"/><stop offset="0.3176" stop-color="rgb(43,43,43)"/><stop offset="0.3176" stop-color="rgb(43,43,43)"/><stop offset="0.3601" stop-color="rgb(51,51,51)"/><stop offset="0.3601" stop-color="rgb(66,66,66)"/><stop offset="0.4088" stop-color="rgb(87,87,87)"/><stop offset="0.4088" stop-color="rgb(89,89,89)"/><stop offset="0.5912" stop-color="rgb(84,84,84)"/><stop offset="0.5912" stop-color="rgb(84,84,84)"/><stop offset="0.6520" stop-color="rgb(69,69,69)"/><stop offset="0.6520" stop-color="rgb(69,69,69)"/><stop offset="0.6946" stop-color="rgb(13,13,13)"/><stop offset="0.6946" stop-color="rgb(13,13,13)"/><stop offset="0.7372" stop-color="rgb(82,82,82)"/><stop offset="0.7372" stop-color="rgb(84,84,84)"/><stop offset="0.7736" stop-color="rgb(92,92,92)"/><stop offset="0.7736" stop-color="rgb(94,94,94)"/><stop offset="0.8405" stop-color="rgb(94,94,94)"/><stop offset="0.8405" stop-color="rgb(89,89,89)"/><stop offset="0.9865" stop-color="rgb(84,84,84)"/></linearGradient><g filter="url(#gf)" style="mix-blend-mode:lighten" opacity="0.30"><rect x="38.00" y="467.36" width="296.00" height="14.80" fill="url(#wg42_416)"/></g><g filter="url(#g1)" style="mix-blend-mode:lighten"><rect x="38.00" y="471.06" width="296.00" height="7.40" fill="url(#wg42_416)"/></g><g filter="url(#gr3)" style="mix-blend-mode:lighten"><ellipse cx="258.00" cy="487.29" rx="16" ry="6.8" fill="none" stroke="rgb(28,28,28)" stroke-width="5"/></g><linearGradient id="rg3" gradientUnits="userSpaceOnUse" x1="76.76" x2="126.76" y1="0" y2="0"><stop offset="0.000" stop-color="rgb(17,17,17)"/><stop offset="0.020" stop-color="rgb(25,25,25)"/><stop offset="0.080" stop-color="rgb(42,42,42)"/><stop offset="0.160" stop-color="rgb(56,56,56)"/><stop offset="0.260" stop-color="rgb(68,68,68)"/><stop offset="0.380" stop-color="rgb(81,81,81)"/><stop offset="0.500" stop-color="rgb(85,85,85)"/><stop offset="0.620" stop-color="rgb(81,81,81)"/><stop offset="0.740" stop-color="rgb(68,68,68)"/><stop offset="0.840" stop-color="rgb(56,56,56)"/><stop offset="0.920" stop-color="rgb(42,42,42)"/><stop offset="0.980" stop-color="rgb(25,25,25)"/><stop offset="1.000" stop-color="rgb(17,17,17)"/></linearGradient><g filter="url(#gf)" style="mix-blend-mode:lighten"><ellipse cx="102.06" cy="460.04" rx="21.00" ry="10.50" fill="rgb(8,8,8)"/></g><g filter="url(#g3b)" style="mix-blend-mode:lighten"><path d="M79.30,455.74 L79.53,454.82 L79.82,453.97 L80.17,453.16 L80.58,452.38 L81.04,451.65 L81.57,450.96 L82.15,450.30 L82.79,449.68 L83.48,449.09 L84.23,448.54 L85.03,448.02 L85.89,447.54 L86.80,447.10 L87.77,446.69 L88.79,446.32 L89.87,445.99 L91.00,445.70 L92.19,445.44 L93.45,445.23 L94.78,445.05 L96.20,444.91 L97.73,444.81 L99.44,444.76 L101.76,444.74 L104.08,444.76 L105.79,444.81 L107.32,444.91 L108.74,445.05 L110.07,445.23 L111.33,445.44 L112.52,445.70 L113.65,445.99 L114.73,446.32 L115.75,446.69 L116.72,447.10 L117.63,447.54 L118.49,448.02 L119.29,448.54 L120.04,449.09 L120.73,449.68 L121.37,450.30 L121.95,450.96 L122.48,451.65 L122.94,452.38 L123.35,453.16 L123.70,453.97 L123.99,454.82 L124.22,455.74 L120.09,455.74 L119.68,455.30 L119.23,454.87 L118.74,454.45 L118.21,454.05 L117.64,453.66 L117.04,453.28 L116.40,452.92 L115.72,452.58 L115.02,452.25 L114.28,451.94 L113.51,451.64 L112.71,451.37 L111.89,451.11 L111.05,450.88 L110.18,450.67 L109.30,450.47 L108.39,450.30 L107.48,450.15 L106.54,450.03 L105.60,449.92 L104.65,449.84 L103.69,449.78 L102.73,449.75 L101.76,449.74 L100.79,449.75 L99.83,449.78 L98.87,449.84 L97.92,449.92 L96.98,450.03 L96.04,450.15 L95.13,450.30 L94.22,450.47 L93.34,450.67 L92.47,450.88 L91.63,451.11 L90.81,451.37 L90.01,451.64 L89.24,451.94 L88.50,452.25 L87.80,452.58 L87.12,452.92 L86.48,453.28 L85.88,453.66 L85.31,454.05 L84.78,454.45 L84.29,454.87 L83.84,455.30 L83.43,455.74Z" fill="url(#rg3)"/><path d="M79.38,462.14 L79.58,462.84 L79.84,463.50 L80.17,464.12 L80.56,464.71 L81.01,465.27 L81.53,465.80 L82.11,466.30 L82.75,466.77 L83.45,467.22 L84.21,467.64 L85.03,468.03 L85.90,468.40 L86.84,468.74 L87.83,469.04 L88.89,469.33 L90.00,469.58 L91.17,469.80 L92.41,469.99 L93.72,470.16 L95.10,470.29 L96.57,470.40 L98.17,470.48 L99.95,470.52 L102.36,470.54 L104.77,470.52 L106.55,470.48 L108.15,470.40 L109.62,470.29 L111.00,470.16 L112.31,469.99 L113.55,469.80 L114.72,469.58 L115.83,469.33 L116.89,469.04 L117.88,468.74 L118.82,468.40 L119.69,468.03 L120.51,467.64 L121.27,467.22 L121.97,466.77 L122.61,466.30 L123.19,465.80 L123.71,465.27 L124.16,464.71 L124.55,464.12 L124.88,463.50 L125.14,462.84 L125.34,462.14 L119.30,462.14 L118.89,462.35 L118.44,462.56 L117.96,462.76 L117.45,462.96 L116.90,463.15 L116.32,463.33 L115.72,463.50 L115.09,463.67 L114.43,463.83 L113.74,463.98 L113.03,464.12 L112.30,464.25 L111.55,464.37 L110.77,464.49 L109.98,464.59 L109.18,464.68 L108.36,464.76 L107.52,464.84 L106.68,464.90 L105.83,464.95 L104.97,464.99 L104.10,465.01 L103.23,465.03 L102.36,465.04 L101.49,465.03 L100.62,465.01 L99.75,464.99 L98.89,464.95 L98.04,464.90 L97.20,464.84 L96.36,464.76 L95.54,464.68 L94.74,464.59 L93.95,464.49 L93.17,464.37 L92.42,464.25 L91.69,464.12 L90.98,463.98 L90.29,463.83 L89.63,463.67 L89.00,463.50 L88.40,463.33 L87.82,463.15 L87.27,462.96 L86.76,462.76 L86.28,462.56 L85.83,462.35 L85.42,462.14Z" fill="url(#rg3)"/></g><linearGradient id="rg4" gradientUnits="userSpaceOnUse" x1="160.10" x2="210.10" y1="0" y2="0"><stop offset="0.000" stop-color="rgb(17,17,17)"/><stop offset="0.020" stop-color="rgb(25,25,25)"/><stop offset="0.080" stop-color="rgb(42,42,42)"/><stop offset="0.160" stop-color="rgb(56,56,56)"/><stop offset="0.260" stop-color="rgb(68,68,68)"/><stop offset="0.380" stop-color="rgb(81,81,81)"/><stop offset="0.500" stop-color="rgb(85,85,85)"/><stop offset="0.620" stop-color="rgb(81,81,81)"/><stop offset="0.740" stop-color="rgb(68,68,68)"/><stop offset="0.840" stop-color="rgb(56,56,56)"/><stop offset="0.920" stop-color="rgb(42,42,42)"/><stop offset="0.980" stop-color="rgb(25,25,25)"/><stop offset="1.000" stop-color="rgb(17,17,17)"/></linearGradient><g filter="url(#gf)" style="mix-blend-mode:lighten"><ellipse cx="185.40" cy="460.04" rx="21.00" ry="10.50" fill="rgb(8,8,8)"/></g><g filter="url(#g3b)" style="mix-blend-mode:lighten"><path d="M162.64,455.74 L162.87,454.82 L163.16,453.97 L163.51,453.16 L163.92,452.38 L164.38,451.65 L164.91,450.96 L165.49,450.30 L166.13,449.68 L166.82,449.09 L167.57,448.54 L168.37,448.02 L169.23,447.54 L170.14,447.10 L171.11,446.69 L172.13,446.32 L173.21,445.99 L174.34,445.70 L175.53,445.44 L176.79,445.23 L178.12,445.05 L179.54,444.91 L181.07,444.81 L182.78,444.76 L185.10,444.74 L187.42,444.76 L189.13,444.81 L190.66,444.91 L192.08,445.05 L193.41,445.23 L194.67,445.44 L195.86,445.70 L196.99,445.99 L198.07,446.32 L199.09,446.69 L200.06,447.10 L200.97,447.54 L201.83,448.02 L202.63,448.54 L203.38,449.09 L204.07,449.68 L204.71,450.30 L205.29,450.96 L205.82,451.65 L206.28,452.38 L206.69,453.16 L207.04,453.97 L207.33,454.82 L207.56,455.74 L203.43,455.74 L203.02,455.30 L202.57,454.87 L202.08,454.45 L201.55,454.05 L200.98,453.66 L200.38,453.28 L199.74,452.92 L199.06,452.58 L198.36,452.25 L197.62,451.94 L196.85,451.64 L196.05,451.37 L195.23,451.11 L194.39,450.88 L193.52,450.67 L192.64,450.47 L191.73,450.30 L190.82,450.15 L189.88,450.03 L188.94,449.92 L187.99,449.84 L187.03,449.78 L186.07,449.75 L185.10,449.74 L184.13,449.75 L183.17,449.78 L182.21,449.84 L181.26,449.92 L180.32,450.03 L179.38,450.15 L178.47,450.30 L177.56,450.47 L176.68,450.67 L175.81,450.88 L174.97,451.11 L174.15,451.37 L173.35,451.64 L172.58,451.94 L171.84,452.25 L171.14,452.58 L170.46,452.92 L169.82,453.28 L169.22,453.66 L168.65,454.05 L168.12,454.45 L167.63,454.87 L167.18,455.30 L166.77,455.74Z" fill="url(#rg4)"/><path d="M162.72,462.14 L162.92,462.84 L163.18,463.50 L163.51,464.12 L163.90,464.71 L164.35,465.27 L164.87,465.80 L165.45,466.30 L166.09,466.77 L166.79,467.22 L167.55,467.64 L168.37,468.03 L169.24,468.40 L170.18,468.74 L171.17,469.04 L172.23,469.33 L173.34,469.58 L174.51,469.80 L175.75,469.99 L177.06,470.16 L178.44,470.29 L179.91,470.40 L181.51,470.48 L183.29,470.52 L185.70,470.54 L188.11,470.52 L189.89,470.48 L191.49,470.40 L192.96,470.29 L194.34,470.16 L195.65,469.99 L196.89,469.80 L198.06,469.58 L199.17,469.33 L200.23,469.04 L201.22,468.74 L202.16,468.40 L203.03,468.03 L203.85,467.64 L204.61,467.22 L205.31,466.77 L205.95,466.30 L206.53,465.80 L207.05,465.27 L207.50,464.71 L207.89,464.12 L208.22,463.50 L208.48,462.84 L208.68,462.14 L202.64,462.14 L202.23,462.35 L201.78,462.56 L201.30,462.76 L200.79,462.96 L200.24,463.15 L199.66,463.33 L199.06,463.50 L198.43,463.67 L197.77,463.83 L197.08,463.98 L196.37,464.12 L195.64,464.25 L194.89,464.37 L194.11,464.49 L193.32,464.59 L192.52,464.68 L191.70,464.76 L190.86,464.84 L190.02,464.90 L189.17,464.95 L188.31,464.99 L187.44,465.01 L186.57,465.03 L185.70,465.04 L184.83,465.03 L183.96,465.01 L183.09,464.99 L182.23,464.95 L181.38,464.90 L180.54,464.84 L179.70,464.76 L178.88,464.68 L178.08,464.59 L177.29,464.49 L176.51,464.37 L175.76,464.25 L175.03,464.12 L174.32,463.98 L173.63,463.83 L172.97,463.67 L172.34,463.50 L171.74,463.33 L171.16,463.15 L170.61,462.96 L170.10,462.76 L169.62,462.56 L169.17,462.35 L168.76,462.14Z" fill="url(#rg4)"/></g>
</g></g>
<rect x="42.00" y="416.00" width="288.00" height="115.60" fill="none" stroke="#000033" stroke-width="0.8"/>
<path d="M60.00,531.60v-2.2 M78.00,531.60v-2.2 M96.00,531.60v-2.2 M114.00,531.60v-2.2 M132.00,531.60v-2.2 M150.00,531.60v-2.2 M168.00,531.60v-2.2 M186.00,531.60v-2.2 M204.00,531.60v-2.2 M222.00,531.60v-2.2 M240.00,531.60v-2.2 M258.00,531.60v-2.2 M276.00,531.60v-2.2 M294.00,531.60v-2.2 M312.00,531.60v-2.2 M42.00,521.97h2.2 M42.00,512.33h2.2 M42.00,502.70h2.2 M42.00,493.07h2.2 M42.00,483.43h2.2 M42.00,473.80h2.2 M42.00,464.17h2.2 M42.00,454.53h2.2 M42.00,444.90h2.2 M42.00,435.27h2.2 M42.00,425.63h2.2" stroke="#000" stroke-width="0.8" fill="none"/>
<path d="M42.00,531.60V413.00 M42.00,531.60H333.00" stroke="#000" stroke-width="0.8"/>
<path d="M42.00,404.30L39.00,413.20L45.00,413.20Z" fill="#000"/>
<path d="M341.60,531.60L332.80,528.80L332.80,534.40Z" fill="#000"/>
<g font-family="Liberation Sans" font-size="9.40" fill="#222"><text transform="translate(42.00,540.20) scale(0.820,1)" text-anchor="middle">-800</text><text transform="translate(78.00,540.20) scale(0.820,1)" text-anchor="middle">-600</text><text transform="translate(114.00,540.20) scale(0.820,1)" text-anchor="middle">-400</text><text transform="translate(150.00,540.20) scale(0.820,1)" text-anchor="middle">-200</text><text transform="translate(186.00,540.20) scale(0.820,1)" text-anchor="middle">0</text><text transform="translate(222.00,540.20) scale(0.820,1)" text-anchor="middle">200</text><text transform="translate(258.00,540.20) scale(0.820,1)" text-anchor="middle">400</text><text transform="translate(294.00,540.20) scale(0.820,1)" text-anchor="middle">600</text><text transform="translate(330.00,540.20) scale(0.820,1)" text-anchor="middle">800</text><text transform="translate(39.70,457.73) scale(0.820,1)" text-anchor="end">200</text><text transform="translate(39.70,496.27) scale(0.820,1)" text-anchor="end">-200</text><text transform="translate(39.70,534.80) scale(0.820,1)" text-anchor="end">-600</text></g>
<text x="186.00" y="548.60" text-anchor="middle" font-family="Liberation Sans" font-size="9.2" fill="#222">x(nm)</text>
<text transform="translate(8.20,473.80) rotate(-90)" text-anchor="middle" font-family="Liberation Sans" font-size="9.2" fill="#222">y(nm)</text>
<text x="43.80" y="428.90" font-family="Liberation Serif" font-weight="bold" font-size="13" fill="#fff">(c)</text>
<g font-family="Liberation Serif" font-weight="bold" font-size="13.6" fill="#fff"><text x="118.80" y="522.80" textLength="62.0" lengthAdjust="spacingAndGlyphs">Pump OFF</text><text x="190.40" y="522.80" textLength="60.2" lengthAdjust="spacingAndGlyphs">&#955;=1482nm</text></g>
<rect x="336.60" y="421.60" width="6" height="103.70" fill="url(#jetgrad)"/>
<path d="M336.60,525.30H345.20 M336.60,504.56H345.20 M336.60,483.82H345.20 M336.60,463.08H345.20 M336.60,442.34H345.20 M336.60,421.60H345.20" stroke="#000" stroke-width="0.8"/>
<g font-family="Liberation Sans" font-size="9.40" fill="#222"><text transform="translate(345.60,528.50) scale(0.820,1)">0.0</text><text transform="translate(345.60,507.76) scale(0.820,1)">0.2</text><text transform="translate(345.60,487.02) scale(0.820,1)">0.4</text><text transform="translate(345.60,466.28) scale(0.820,1)">0.6</text><text transform="translate(345.60,445.54) scale(0.820,1)">0.8</text><text transform="translate(345.60,424.80) scale(0.820,1)">1.0</text></g>
<clipPath id="clip_d"><rect x="42.00" y="568.00" width="288.00" height="115.60"/></clipPath>
<g clip-path="url(#clip_d)"><g filter="url(#jet)">
<rect x="37.00" y="563.00" width="298.00" height="125.60" fill="rgb(0,0,0)"/>
<linearGradient id="wg42_568" gradientUnits="userSpaceOnUse" x1="38.00" x2="334.00" y1="0" y2="0"><stop offset="0.0135" stop-color="rgb(76,76,76)"/><stop offset="0.1230" stop-color="rgb(76,76,76)"/><stop offset="0.1230" stop-color="rgb(71,71,71)"/><stop offset="0.1777" stop-color="rgb(48,48,48)"/><stop offset="0.1777" stop-color="rgb(48,48,48)"/><stop offset="0.2203" stop-color="rgb(64,64,64)"/><stop offset="0.2203" stop-color="rgb(64,64,64)"/><stop offset="0.3905" stop-color="rgb(64,64,64)"/><stop offset="0.3905" stop-color="rgb(64,64,64)"/><stop offset="0.4392" stop-color="rgb(13,13,13)"/><stop offset="0.4392" stop-color="rgb(13,13,13)"/><stop offset="0.5608" stop-color="rgb(18,18,18)"/><stop offset="0.5608" stop-color="rgb(18,18,18)"/><stop offset="0.6824" stop-color="rgb(20,20,20)"/><stop offset="0.6824" stop-color="rgb(23,23,23)"/><stop offset="0.9865" stop-color="rgb(26,26,26)"/></linearGradient><g filter="url(#gf)" style="mix-blend-mode:lighten" opacity="0.30"><rect x="38.00" y="619.36" width="296.00" height="14.80" fill="url(#wg42_568)"/></g><g filter="url(#g1)" style="mix-blend-mode:lighten"><rect x="38.00" y="623.06" width="296.00" height="7.40" fill="url(#wg42_568)"/></g><linearGradient id="rg5" gradientUnits="userSpaceOnUse" x1="76.76" x2="126.76" y1="0" y2="0"><stop offset="0.000" stop-color="rgb(13,13,13)"/><stop offset="0.080" stop-color="rgb(24,24,24)"/><stop offset="0.160" stop-color="rgb(32,32,32)"/><stop offset="0.260" stop-color="rgb(41,41,41)"/><stop offset="0.380" stop-color="rgb(48,48,48)"/><stop offset="0.500" stop-color="rgb(51,51,51)"/><stop offset="0.620" stop-color="rgb(48,48,48)"/><stop offset="0.740" stop-color="rgb(41,41,41)"/><stop offset="0.840" stop-color="rgb(32,32,32)"/><stop offset="0.920" stop-color="rgb(24,24,24)"/><stop offset="1.000" stop-color="rgb(13,13,13)"/></linearGradient><g filter="url(#gf)" style="mix-blend-mode:lighten"><path d="M79.77,608.74 L80.07,607.96 L80.45,607.19 L80.89,606.43 L81.40,605.70 L81.97,604.98 L82.61,604.28 L83.30,603.61 L84.06,602.97 L84.88,602.35 L85.74,601.76 L86.66,601.21 L87.63,600.68 L88.64,600.20 L89.70,599.75 L90.79,599.34 L91.92,598.97 L93.08,598.63 L94.27,598.35 L95.48,598.10 L96.71,597.90 L97.96,597.74 L99.22,597.63 L100.49,597.56 L101.76,597.54 L103.03,597.56 L104.30,597.63 L105.56,597.74 L106.81,597.90 L108.04,598.10 L109.25,598.35 L110.44,598.63 L111.60,598.97 L112.73,599.34 L113.82,599.75 L114.88,600.20 L115.89,600.68 L116.86,601.21 L117.78,601.76 L118.64,602.35 L119.46,602.97 L120.22,603.61 L120.91,604.28 L121.55,604.98 L122.12,605.70 L122.63,606.43 L123.07,607.19 L123.45,607.96 L123.75,608.74 L117.36,608.74 L117.06,608.29 L116.72,607.86 L116.34,607.43 L115.92,607.02 L115.47,606.62 L114.98,606.23 L114.45,605.85 L113.89,605.50 L113.30,605.16 L112.67,604.83 L112.02,604.53 L111.34,604.24 L110.63,603.98 L109.90,603.73 L109.15,603.51 L108.38,603.31 L107.59,603.13 L106.79,602.97 L105.97,602.84 L105.14,602.73 L104.30,602.65 L103.46,602.58 L102.61,602.55 L101.76,602.54 L100.91,602.55 L100.06,602.58 L99.22,602.65 L98.38,602.73 L97.55,602.84 L96.73,602.97 L95.93,603.13 L95.14,603.31 L94.37,603.51 L93.62,603.73 L92.89,603.98 L92.18,604.24 L91.50,604.53 L90.85,604.83 L90.22,605.16 L89.63,605.50 L89.07,605.85 L88.54,606.23 L88.05,606.62 L87.60,607.02 L87.18,607.43 L86.80,607.86 L86.46,608.29 L86.16,608.74Z" fill="url(#rg5)"/><path d="M81.73,615.24 L82.09,615.87 L82.50,616.49 L82.97,617.09 L83.49,617.68 L84.07,618.26 L84.70,618.81 L85.39,619.35 L86.12,619.86 L86.89,620.35 L87.71,620.81 L88.58,621.25 L89.48,621.66 L90.42,622.05 L91.39,622.40 L92.40,622.72 L93.43,623.02 L94.49,623.28 L95.57,623.50 L96.67,623.69 L97.79,623.85 L98.92,623.98 L100.06,624.06 L101.21,624.12 L102.36,624.14 L103.51,624.12 L104.66,624.06 L105.80,623.98 L106.93,623.85 L108.05,623.69 L109.15,623.50 L110.23,623.28 L111.29,623.02 L112.32,622.72 L113.33,622.40 L114.30,622.05 L115.24,621.66 L116.14,621.25 L117.01,620.81 L117.83,620.35 L118.60,619.86 L119.33,619.35 L120.02,618.81 L120.65,618.26 L121.23,617.68 L121.75,617.09 L122.22,616.49 L122.63,615.87 L122.99,615.24 L116.46,615.24 L116.10,615.52 L115.72,615.81 L115.31,616.08 L114.88,616.34 L114.42,616.60 L113.93,616.85 L113.43,617.08 L112.90,617.30 L112.34,617.52 L111.77,617.72 L111.18,617.91 L110.57,618.09 L109.95,618.25 L109.31,618.40 L108.65,618.54 L107.99,618.66 L107.31,618.77 L106.62,618.87 L105.92,618.95 L105.22,619.02 L104.51,619.07 L103.80,619.11 L103.08,619.13 L102.36,619.14 L101.64,619.13 L100.92,619.11 L100.21,619.07 L99.50,619.02 L98.80,618.95 L98.10,618.87 L97.41,618.77 L96.73,618.66 L96.07,618.54 L95.41,618.40 L94.77,618.25 L94.15,618.09 L93.54,617.91 L92.95,617.72 L92.38,617.52 L91.82,617.30 L91.29,617.08 L90.79,616.85 L90.30,616.60 L89.84,616.34 L89.41,616.08 L89.00,615.81 L88.62,615.52 L88.26,615.24Z" fill="url(#rg5)"/></g><g filter="url(#gr3)" style="mix-blend-mode:lighten"><ellipse cx="258.00" cy="639.29" rx="16" ry="6.8" fill="none" stroke="rgb(5,5,5)" stroke-width="5"/></g><linearGradient id="rg6" gradientUnits="userSpaceOnUse" x1="160.10" x2="210.10" y1="0" y2="0"><stop offset="0.000" stop-color="rgb(19,19,19)"/><stop offset="0.020" stop-color="rgb(31,31,31)"/><stop offset="0.060" stop-color="rgb(59,59,59)"/><stop offset="0.120" stop-color="rgb(86,86,86)"/><stop offset="0.220" stop-color="rgb(120,120,120)"/><stop offset="0.340" stop-color="rgb(138,138,138)"/><stop offset="0.500" stop-color="rgb(156,156,156)"/><stop offset="0.660" stop-color="rgb(138,138,138)"/><stop offset="0.780" stop-color="rgb(120,120,120)"/><stop offset="0.880" stop-color="rgb(86,86,86)"/><stop offset="0.940" stop-color="rgb(59,59,59)"/><stop offset="0.980" stop-color="rgb(31,31,31)"/><stop offset="1.000" stop-color="rgb(19,19,19)"/></linearGradient><g filter="url(#gf)" style="mix-blend-mode:lighten"><ellipse cx="185.40" cy="612.04" rx="21.00" ry="10.50" fill="rgb(15,15,15)"/></g><g filter="url(#g3b)" style="mix-blend-mode:lighten"><path d="M160.41,608.24 L160.80,607.50 L161.26,606.77 L161.79,606.06 L162.39,605.37 L163.06,604.69 L163.80,604.04 L164.60,603.41 L165.47,602.80 L166.39,602.22 L167.37,601.67 L168.40,601.15 L169.48,600.67 L170.61,600.21 L171.79,599.79 L173.00,599.41 L174.25,599.07 L175.54,598.76 L176.85,598.49 L178.19,598.26 L179.54,598.07 L180.92,597.92 L182.30,597.82 L183.70,597.76 L185.10,597.74 L186.50,597.76 L187.90,597.82 L189.28,597.92 L190.66,598.07 L192.01,598.26 L193.35,598.49 L194.66,598.76 L195.95,599.07 L197.20,599.41 L198.41,599.79 L199.59,600.21 L200.72,600.67 L201.80,601.15 L202.83,601.67 L203.81,602.22 L204.73,602.80 L205.60,603.41 L206.40,604.04 L207.14,604.69 L207.81,605.37 L208.41,606.06 L208.94,606.77 L209.40,607.50 L209.79,608.24 L201.98,608.24 L201.65,607.76 L201.27,607.29 L200.84,606.84 L200.38,606.40 L199.88,605.97 L199.34,605.56 L198.76,605.16 L198.15,604.78 L197.51,604.42 L196.83,604.08 L196.12,603.75 L195.39,603.45 L194.63,603.17 L193.84,602.91 L193.03,602.67 L192.20,602.45 L191.36,602.26 L190.49,602.10 L189.61,601.96 L188.73,601.84 L187.83,601.75 L186.92,601.69 L186.01,601.65 L185.10,601.64 L184.19,601.65 L183.28,601.69 L182.37,601.75 L181.47,601.84 L180.59,601.96 L179.71,602.10 L178.84,602.26 L178.00,602.45 L177.17,602.67 L176.36,602.91 L175.57,603.17 L174.81,603.45 L174.08,603.75 L173.37,604.08 L172.69,604.42 L172.05,604.78 L171.44,605.16 L170.86,605.56 L170.32,605.97 L169.82,606.40 L169.36,606.84 L168.93,607.29 L168.55,607.76 L168.22,608.24Z" fill="url(#rg6)"/><path d="M162.08,614.74 L162.47,615.32 L162.92,615.90 L163.45,616.46 L164.03,617.01 L164.69,617.54 L165.40,618.06 L166.17,618.56 L167.00,619.04 L167.89,619.50 L168.83,619.93 L169.82,620.34 L170.85,620.72 L171.93,621.08 L173.05,621.41 L174.21,621.71 L175.40,621.99 L176.62,622.23 L177.86,622.44 L179.14,622.62 L180.42,622.77 L181.73,622.89 L183.05,622.97 L184.37,623.02 L185.70,623.04 L187.03,623.02 L188.35,622.97 L189.67,622.89 L190.98,622.77 L192.26,622.62 L193.54,622.44 L194.78,622.23 L196.00,621.99 L197.19,621.71 L198.35,621.41 L199.47,621.08 L200.55,620.72 L201.58,620.34 L202.57,619.93 L203.51,619.50 L204.40,619.04 L205.23,618.56 L206.00,618.06 L206.71,617.54 L207.37,617.01 L207.95,616.46 L208.48,615.90 L208.93,615.32 L209.32,614.74 L201.39,614.74 L201.05,615.08 L200.68,615.43 L200.27,615.76 L199.82,616.08 L199.34,616.39 L198.82,616.69 L198.28,616.98 L197.70,617.26 L197.10,617.52 L196.47,617.77 L195.81,618.01 L195.13,618.23 L194.43,618.43 L193.70,618.62 L192.96,618.79 L192.19,618.94 L191.42,619.08 L190.63,619.20 L189.82,619.30 L189.01,619.39 L188.19,619.45 L187.36,619.50 L186.53,619.53 L185.70,619.54 L184.87,619.53 L184.04,619.50 L183.21,619.45 L182.39,619.39 L181.58,619.30 L180.77,619.20 L179.98,619.08 L179.21,618.94 L178.44,618.79 L177.70,618.62 L176.97,618.43 L176.27,618.23 L175.59,618.01 L174.93,617.77 L174.30,617.52 L173.70,617.26 L173.12,616.98 L172.58,616.69 L172.06,616.39 L171.58,616.08 L171.13,615.76 L170.72,615.43 L170.35,615.08 L170.01,614.74Z" fill="url(#rg6)"/></g>
</g></g>
<rect x="42.00" y="568.00" width="288.00" height="115.60" fill="none" stroke="#000033" stroke-width="0.8"/>
<path d="M60.00,683.60v-2.2 M78.00,683.60v-2.2 M96.00,683.60v-2.2 M114.00,683.60v-2.2 M132.00,683.60v-2.2 M150.00,683.60v-2.2 M168.00,683.60v-2.2 M186.00,683.60v-2.2 M204.00,683.60v-2.2 M222.00,683.60v-2.2 M240.00,683.60v-2.2 M258.00,683.60v-2.2 M276.00,683.60v-2.2 M294.00,683.60v-2.2 M312.00,683.60v-2.2 M42.00,673.97h2.2 M42.00,664.33h2.2 M42.00,654.70h2.2 M42.00,645.07h2.2 M42.00,635.43h2.2 M42.00,625.80h2.2 M42.00,616.17h2.2 M42.00,606.53h2.2 M42.00,596.90h2.2 M42.00,587.27h2.2 M42.00,577.63h2.2" stroke="#000" stroke-width="0.8" fill="none"/>
<path d="M42.00,683.60V565.00 M42.00,683.60H333.00" stroke="#000" stroke-width="0.8"/>
<path d="M42.00,556.30L39.00,565.20L45.00,565.20Z" fill="#000"/>
<path d="M341.60,683.60L332.80,680.80L332.80,686.40Z" fill="#000"/>
<g font-family="Liberation Sans" font-size="9.40" fill="#222"><text transform="translate(42.00,692.20) scale(0.820,1)" text-anchor="middle">-800</text><text transform="translate(78.00,692.20) scale(0.820,1)" text-anchor="middle">-600</text><text transform="translate(114.00,692.20) scale(0.820,1)" text-anchor="middle">-400</text><text transform="translate(150.00,692.20) scale(0.820,1)" text-anchor="middle">-200</text><text transform="translate(186.00,692.20) scale(0.820,1)" text-anchor="middle">0</text><text transform="translate(222.00,692.20) scale(0.820,1)" text-anchor="middle">200</text><text transform="translate(258.00,692.20) scale(0.820,1)" text-anchor="middle">400</text><text transform="translate(294.00,692.20) scale(0.820,1)" text-anchor="middle">600</text><text transform="translate(330.00,692.20) scale(0.820,1)" text-anchor="middle">800</text><text transform="translate(39.70,609.73) scale(0.820,1)" text-anchor="end">200</text><text transform="translate(39.70,648.27) scale(0.820,1)" text-anchor="end">-200</text><text transform="translate(39.70,686.80) scale(0.820,1)" text-anchor="end">-600</text></g>
<text x="186.00" y="700.60" text-anchor="middle" font-family="Liberation Sans" font-size="9.2" fill="#222">x(nm)</text>
<text transform="translate(8.20,625.80) rotate(-90)" text-anchor="middle" font-family="Liberation Sans" font-size="9.2" fill="#222">y(nm)</text>
<text x="43.80" y="580.90" font-family="Liberation Serif" font-weight="bold" font-size="13" fill="#fff">(d)</text>
<g font-family="Liberation Serif" font-weight="bold" font-size="13.6" fill="#fff"><text x="118.80" y="674.80" textLength="62.0" lengthAdjust="spacingAndGlyphs">Pump OFF</text><text x="190.40" y="674.80" textLength="60.2" lengthAdjust="spacingAndGlyphs">&#955;=1538nm</text></g>
<rect x="336.60" y="573.60" width="6" height="103.70" fill="url(#jetgrad)"/>
<path d="M336.60,677.30H345.20 M336.60,656.56H345.20 M336.60,635.82H345.20 M336.60,615.08H345.20 M336.60,594.34H345.20 M336.60,573.60H345.20" stroke="#000" stroke-width="0.8"/>
<g font-family="Liberation Sans" font-size="9.40" fill="#222"><text transform="translate(345.60,680.50) scale(0.820,1)">0.0</text><text transform="translate(345.60,659.76) scale(0.820,1)">0.2</text><text transform="translate(345.60,639.02) scale(0.820,1)">0.4</text><text transform="translate(345.60,618.28) scale(0.820,1)">0.6</text><text transform="translate(345.60,597.54) scale(0.820,1)">0.8</text><text transform="translate(345.60,576.80) scale(0.820,1)">1.0</text></g>
<clipPath id="clip_e"><rect x="407.50" y="264.00" width="288.00" height="115.60"/></clipPath>
<g clip-path="url(#clip_e)"><g filter="url(#jet)">
<rect x="402.50" y="259.00" width="298.00" height="125.60" fill="rgb(0,0,0)"/>
<linearGradient id="wg407_264" gradientUnits="userSpaceOnUse" x1="403.50" x2="699.50" y1="0" y2="0"><stop offset="0.0135" stop-color="rgb(102,102,102)"/><stop offset="0.1291" stop-color="rgb(102,102,102)"/><stop offset="0.1291" stop-color="rgb(102,102,102)"/><stop offset="0.1899" stop-color="rgb(23,23,23)"/><stop offset="0.1899" stop-color="rgb(23,23,23)"/><stop offset="0.2689" stop-color="rgb(18,18,18)"/><stop offset="0.2689" stop-color="rgb(18,18,18)"/><stop offset="0.4088" stop-color="rgb(15,15,15)"/><stop offset="0.4088" stop-color="rgb(18,18,18)"/><stop offset="0.6216" stop-color="rgb(18,18,18)"/><stop offset="0.6216" stop-color="rgb(18,18,18)"/><stop offset="0.6824" stop-color="rgb(8,8,8)"/><stop offset="0.6824" stop-color="rgb(8,8,8)"/><stop offset="0.7432" stop-color="rgb(26,26,26)"/><stop offset="0.7432" stop-color="rgb(28,28,28)"/><stop offset="0.9865" stop-color="rgb(26,26,26)"/></linearGradient><g filter="url(#gf)" style="mix-blend-mode:lighten" opacity="0.30"><rect x="403.50" y="315.36" width="296.00" height="14.80" fill="url(#wg407_264)"/></g><g filter="url(#g1)" style="mix-blend-mode:lighten"><rect x="403.50" y="319.06" width="296.00" height="7.40" fill="url(#wg407_264)"/></g><linearGradient id="rg7" gradientUnits="userSpaceOnUse" x1="523.60" x2="577.60" y1="0" y2="0"><stop offset="0.000" stop-color="rgb(8,8,8)"/><stop offset="0.080" stop-color="rgb(15,15,15)"/><stop offset="0.160" stop-color="rgb(19,19,19)"/><stop offset="0.260" stop-color="rgb(25,25,25)"/><stop offset="0.380" stop-color="rgb(29,29,29)"/><stop offset="0.500" stop-color="rgb(31,31,31)"/><stop offset="0.620" stop-color="rgb(29,29,29)"/><stop offset="0.740" stop-color="rgb(25,25,25)"/><stop offset="0.840" stop-color="rgb(19,19,19)"/><stop offset="0.920" stop-color="rgb(15,15,15)"/><stop offset="1.000" stop-color="rgb(8,8,8)"/></linearGradient><g filter="url(#gf)" style="mix-blend-mode:lighten"><path d="M526.85,304.50 L527.18,303.65 L527.58,302.82 L528.06,302.01 L528.61,301.21 L529.23,300.44 L529.91,299.69 L530.67,298.96 L531.49,298.27 L532.36,297.60 L533.30,296.96 L534.29,296.36 L535.34,295.80 L536.43,295.27 L537.57,294.79 L538.75,294.35 L539.97,293.94 L541.23,293.59 L542.51,293.27 L543.82,293.01 L545.15,292.79 L546.50,292.62 L547.86,292.50 L549.23,292.42 L550.60,292.40 L551.97,292.42 L553.34,292.50 L554.70,292.62 L556.05,292.79 L557.38,293.01 L558.69,293.27 L559.97,293.59 L561.23,293.94 L562.45,294.35 L563.63,294.79 L564.77,295.27 L565.86,295.80 L566.91,296.36 L567.90,296.96 L568.84,297.60 L569.71,298.27 L570.53,298.96 L571.29,299.69 L571.97,300.44 L572.59,301.21 L573.14,302.01 L573.62,302.82 L574.02,303.65 L574.35,304.50 L567.45,304.50 L567.12,304.02 L566.76,303.54 L566.35,303.09 L565.90,302.64 L565.41,302.21 L564.87,301.79 L564.30,301.38 L563.70,301.00 L563.06,300.63 L562.38,300.28 L561.68,299.95 L560.94,299.64 L560.18,299.36 L559.39,299.09 L558.58,298.85 L557.75,298.63 L556.90,298.44 L556.03,298.27 L555.15,298.13 L554.25,298.01 L553.35,297.92 L552.44,297.85 L551.52,297.81 L550.60,297.80 L549.68,297.81 L548.76,297.85 L547.85,297.92 L546.95,298.01 L546.05,298.13 L545.17,298.27 L544.30,298.44 L543.45,298.63 L542.62,298.85 L541.81,299.09 L541.02,299.36 L540.26,299.64 L539.52,299.95 L538.82,300.28 L538.14,300.63 L537.50,301.00 L536.90,301.38 L536.33,301.79 L535.79,302.21 L535.30,302.64 L534.85,303.09 L534.44,303.54 L534.08,304.02 L533.75,304.50Z" fill="url(#rg7)"/><path d="M528.92,311.52 L529.31,312.20 L529.75,312.87 L530.26,313.52 L530.83,314.16 L531.45,314.78 L532.13,315.38 L532.87,315.96 L533.66,316.51 L534.50,317.04 L535.38,317.54 L536.32,318.01 L537.29,318.46 L538.30,318.87 L539.36,319.25 L540.44,319.60 L541.56,319.92 L542.70,320.20 L543.87,320.44 L545.06,320.65 L546.27,320.82 L547.49,320.96 L548.72,321.05 L549.96,321.11 L551.20,321.13 L552.44,321.11 L553.68,321.05 L554.91,320.96 L556.13,320.82 L557.34,320.65 L558.53,320.44 L559.70,320.20 L560.84,319.92 L561.96,319.60 L563.04,319.25 L564.10,318.87 L565.11,318.46 L566.08,318.01 L567.02,317.54 L567.90,317.04 L568.74,316.51 L569.53,315.96 L570.27,315.38 L570.95,314.78 L571.57,314.16 L572.14,313.52 L572.65,312.87 L573.09,312.20 L573.48,311.52 L566.43,311.52 L566.04,311.83 L565.63,312.13 L565.19,312.43 L564.72,312.71 L564.22,312.99 L563.70,313.25 L563.15,313.51 L562.58,313.75 L561.98,313.98 L561.37,314.20 L560.73,314.40 L560.07,314.59 L559.40,314.77 L558.70,314.93 L558.00,315.08 L557.28,315.22 L556.54,315.34 L555.80,315.44 L555.05,315.53 L554.29,315.60 L553.52,315.65 L552.75,315.70 L551.98,315.72 L551.20,315.73 L550.42,315.72 L549.65,315.70 L548.88,315.65 L548.11,315.60 L547.35,315.53 L546.60,315.44 L545.86,315.34 L545.12,315.22 L544.40,315.08 L543.70,314.93 L543.00,314.77 L542.33,314.59 L541.67,314.40 L541.03,314.20 L540.42,313.98 L539.82,313.75 L539.25,313.51 L538.70,313.25 L538.18,312.99 L537.68,312.71 L537.21,312.43 L536.77,312.13 L536.36,311.83 L535.97,311.52Z" fill="url(#rg7)"/></g><g filter="url(#gr3)" style="mix-blend-mode:lighten"><ellipse cx="624.00" cy="335.29" rx="16" ry="6.8" fill="none" stroke="rgb(6,6,6)" stroke-width="5"/></g><linearGradient id="rg8" gradientUnits="userSpaceOnUse" x1="442.76" x2="492.76" y1="0" y2="0"><stop offset="0.000" stop-color="rgb(21,21,21)"/><stop offset="0.020" stop-color="rgb(35,35,35)"/><stop offset="0.060" stop-color="rgb(63,63,63)"/><stop offset="0.100" stop-color="rgb(83,83,83)"/><stop offset="0.140" stop-color="rgb(96,96,96)"/><stop offset="0.200" stop-color="rgb(108,108,108)"/><stop offset="0.260" stop-color="rgb(129,129,129)"/><stop offset="0.380" stop-color="rgb(188,188,188)"/><stop offset="0.500" stop-color="rgb(209,209,209)"/><stop offset="0.620" stop-color="rgb(188,188,188)"/><stop offset="0.740" stop-color="rgb(129,129,129)"/><stop offset="0.800" stop-color="rgb(108,108,108)"/><stop offset="0.860" stop-color="rgb(96,96,96)"/><stop offset="0.900" stop-color="rgb(83,83,83)"/><stop offset="0.940" stop-color="rgb(63,63,63)"/><stop offset="0.980" stop-color="rgb(35,35,35)"/><stop offset="1.000" stop-color="rgb(21,21,21)"/></linearGradient><g filter="url(#gf)" style="mix-blend-mode:lighten"><ellipse cx="468.06" cy="308.04" rx="21.00" ry="10.50" fill="rgb(18,18,18)"/></g><g filter="url(#g3)" style="mix-blend-mode:lighten"><path d="M443.39,304.74 L443.75,304.01 L444.17,303.29 L444.67,302.59 L445.25,301.91 L445.89,301.24 L446.61,300.59 L447.39,299.97 L448.23,299.37 L449.13,298.80 L450.10,298.25 L451.12,297.74 L452.19,297.25 L453.31,296.80 L454.47,296.39 L455.68,296.00 L456.92,295.66 L458.20,295.35 L459.51,295.09 L460.85,294.86 L462.20,294.67 L463.58,294.52 L464.96,294.42 L466.36,294.36 L467.76,294.34 L469.16,294.36 L470.56,294.42 L471.94,294.52 L473.32,294.67 L474.67,294.86 L476.01,295.09 L477.32,295.35 L478.60,295.66 L479.84,296.00 L481.05,296.39 L482.21,296.80 L483.33,297.25 L484.40,297.74 L485.42,298.25 L486.39,298.80 L487.29,299.37 L488.13,299.97 L488.91,300.59 L489.63,301.24 L490.27,301.91 L490.85,302.59 L491.35,303.29 L491.77,304.01 L492.13,304.74 L485.18,304.74 L484.84,304.31 L484.45,303.90 L484.02,303.49 L483.55,303.10 L483.03,302.71 L482.48,302.35 L481.89,301.99 L481.26,301.65 L480.60,301.33 L479.90,301.02 L479.17,300.73 L478.41,300.46 L477.62,300.21 L476.81,299.97 L475.98,299.76 L475.12,299.57 L474.24,299.40 L473.35,299.25 L472.44,299.12 L471.52,299.02 L470.59,298.94 L469.65,298.88 L468.71,298.85 L467.76,298.84 L466.81,298.85 L465.87,298.88 L464.93,298.94 L464.00,299.02 L463.08,299.12 L462.17,299.25 L461.28,299.40 L460.40,299.57 L459.54,299.76 L458.71,299.97 L457.90,300.21 L457.11,300.46 L456.35,300.73 L455.62,301.02 L454.92,301.33 L454.26,301.65 L453.63,301.99 L453.04,302.35 L452.49,302.71 L451.97,303.10 L451.50,303.49 L451.07,303.90 L450.68,304.31 L450.34,304.74Z" fill="url(#rg8)"/><path d="M445.55,311.04 L445.97,311.56 L446.46,312.07 L447.00,312.57 L447.60,313.05 L448.26,313.53 L448.97,313.98 L449.73,314.42 L450.55,314.84 L451.42,315.24 L452.33,315.62 L453.28,315.98 L454.28,316.32 L455.31,316.63 L456.38,316.92 L457.48,317.18 L458.62,317.42 L459.78,317.63 L460.96,317.82 L462.16,317.98 L463.38,318.10 L464.61,318.21 L465.86,318.28 L467.11,318.32 L468.36,318.34 L469.61,318.32 L470.86,318.28 L472.11,318.21 L473.34,318.10 L474.56,317.98 L475.76,317.82 L476.94,317.63 L478.10,317.42 L479.24,317.18 L480.34,316.92 L481.41,316.63 L482.44,316.32 L483.44,315.98 L484.39,315.62 L485.30,315.24 L486.17,314.84 L486.99,314.42 L487.75,313.98 L488.46,313.53 L489.12,313.05 L489.72,312.57 L490.26,312.07 L490.75,311.56 L491.17,311.04 L484.07,311.04 L483.70,311.34 L483.29,311.65 L482.85,311.94 L482.38,312.22 L481.88,312.50 L481.35,312.76 L480.79,313.01 L480.20,313.26 L479.59,313.49 L478.96,313.70 L478.30,313.91 L477.62,314.10 L476.92,314.28 L476.20,314.44 L475.47,314.59 L474.72,314.72 L473.95,314.84 L473.18,314.95 L472.39,315.03 L471.59,315.11 L470.79,315.16 L469.98,315.20 L469.17,315.23 L468.36,315.24 L467.55,315.23 L466.74,315.20 L465.93,315.16 L465.13,315.11 L464.33,315.03 L463.54,314.95 L462.77,314.84 L462.00,314.72 L461.25,314.59 L460.52,314.44 L459.80,314.28 L459.10,314.10 L458.42,313.91 L457.76,313.70 L457.13,313.49 L456.52,313.26 L455.93,313.01 L455.37,312.76 L454.84,312.50 L454.34,312.22 L453.87,311.94 L453.43,311.65 L453.02,311.34 L452.65,311.04Z" fill="url(#rg8)"/></g>
</g></g>
<rect x="407.50" y="264.00" width="288.00" height="115.60" fill="none" stroke="#000033" stroke-width="0.8"/>
<path d="M425.50,379.60v-2.2 M443.50,379.60v-2.2 M461.50,379.60v-2.2 M479.50,379.60v-2.2 M497.50,379.60v-2.2 M515.50,379.60v-2.2 M533.50,379.60v-2.2 M551.50,379.60v-2.2 M569.50,379.60v-2.2 M587.50,379.60v-2.2 M605.50,379.60v-2.2 M623.50,379.60v-2.2 M641.50,379.60v-2.2 M659.50,379.60v-2.2 M677.50,379.60v-2.2 M407.50,369.97h2.2 M407.50,360.33h2.2 M407.50,350.70h2.2 M407.50,341.07h2.2 M407.50,331.43h2.2 M407.50,321.80h2.2 M407.50,312.17h2.2 M407.50,302.53h2.2 M407.50,292.90h2.2 M407.50,283.27h2.2 M407.50,273.63h2.2" stroke="#000" stroke-width="0.8" fill="none"/>
<path d="M407.50,379.60V261.00 M407.50,379.60H698.50" stroke="#000" stroke-width="0.8"/>
<path d="M407.50,252.30L404.50,261.20L410.50,261.20Z" fill="#000"/>
<path d="M707.10,379.60L698.30,376.80L698.30,382.40Z" fill="#000"/>
<g font-family="Liberation Sans" font-size="9.40" fill="#222"><text transform="translate(407.50,388.20) scale(0.820,1)" text-anchor="middle">-800</text><text transform="translate(443.50,388.20) scale(0.820,1)" text-anchor="middle">-600</text><text transform="translate(479.50,388.20) scale(0.820,1)" text-anchor="middle">-400</text><text transform="translate(515.50,388.20) scale(0.820,1)" text-anchor="middle">-200</text><text transform="translate(551.50,388.20) scale(0.820,1)" text-anchor="middle">0</text><text transform="translate(587.50,388.20) scale(0.820,1)" text-anchor="middle">200</text><text transform="translate(623.50,388.20) scale(0.820,1)" text-anchor="middle">400</text><text transform="translate(659.50,388.20) scale(0.820,1)" text-anchor="middle">600</text><text transform="translate(695.50,388.20) scale(0.820,1)" text-anchor="middle">800</text><text transform="translate(405.20,305.73) scale(0.820,1)" text-anchor="end">200</text><text transform="translate(405.20,344.27) scale(0.820,1)" text-anchor="end">-200</text><text transform="translate(405.20,382.80) scale(0.820,1)" text-anchor="end">-600</text></g>
<text x="551.50" y="396.60" text-anchor="middle" font-family="Liberation Sans" font-size="9.2" fill="#222">x(nm)</text>
<text transform="translate(373.70,321.80) rotate(-90)" text-anchor="middle" font-family="Liberation Sans" font-size="9.2" fill="#222">y(nm)</text>
<text x="409.40" y="277.60" font-family="Liberation Serif" font-weight="bold" font-size="13" fill="#fff">(e)</text>
<g font-family="Liberation Serif" font-weight="bold" font-size="13.6" fill="#fff"><text x="488.30" y="370.80" textLength="54.6" lengthAdjust="spacingAndGlyphs">Pump ON</text><text x="551.60" y="370.80" textLength="60.6" lengthAdjust="spacingAndGlyphs">&#955;=1482nm</text></g>
<rect x="702.10" y="269.60" width="6" height="103.70" fill="url(#jetgrad)"/>
<path d="M702.10,373.30H710.70 M702.10,352.56H710.70 M702.10,331.82H710.70 M702.10,311.08H710.70 M702.10,290.34H710.70 M702.10,269.60H710.70" stroke="#000" stroke-width="0.8"/>
<g font-family="Liberation Sans" font-size="9.40" fill="#222"><text transform="translate(711.10,376.50) scale(0.820,1)">0.0</text><text transform="translate(711.10,355.76) scale(0.820,1)">0.2</text><text transform="translate(711.10,335.02) scale(0.820,1)">0.4</text><text transform="translate(711.10,314.28) scale(0.820,1)">0.6</text><text transform="translate(711.10,293.54) scale(0.820,1)">0.8</text><text transform="translate(711.10,272.80) scale(0.820,1)">1.0</text></g>
<clipPath id="clip_f"><rect x="407.50" y="416.00" width="288.00" height="115.60"/></clipPath>
<g clip-path="url(#clip_f)"><g filter="url(#jet)">
<rect x="402.50" y="411.00" width="298.00" height="125.60" fill="rgb(0,0,0)"/>
<linearGradient id="wg407_416" gradientUnits="userSpaceOnUse" x1="403.50" x2="699.50" y1="0" y2="0"><stop offset="0.0135" stop-color="rgb(59,59,59)"/><stop offset="0.0743" stop-color="rgb(76,76,76)"/><stop offset="0.0743" stop-color="rgb(89,89,89)"/><stop offset="0.1838" stop-color="rgb(99,99,99)"/><stop offset="0.1838" stop-color="rgb(107,107,107)"/><stop offset="0.2811" stop-color="rgb(115,115,115)"/><stop offset="0.2811" stop-color="rgb(107,107,107)"/><stop offset="0.3236" stop-color="rgb(31,31,31)"/><stop offset="0.3236" stop-color="rgb(31,31,31)"/><stop offset="0.3601" stop-color="rgb(76,76,76)"/><stop offset="0.3601" stop-color="rgb(107,107,107)"/><stop offset="0.4270" stop-color="rgb(148,148,148)"/><stop offset="0.4270" stop-color="rgb(158,158,158)"/><stop offset="0.5730" stop-color="rgb(148,148,148)"/><stop offset="0.5730" stop-color="rgb(128,128,128)"/><stop offset="0.6459" stop-color="rgb(76,76,76)"/><stop offset="0.6459" stop-color="rgb(76,76,76)"/><stop offset="0.6861" stop-color="rgb(26,26,26)"/><stop offset="0.6861" stop-color="rgb(26,26,26)"/><stop offset="0.7432" stop-color="rgb(107,107,107)"/><stop offset="0.7432" stop-color="rgb(107,107,107)"/><stop offset="0.8162" stop-color="rgb(135,135,135)"/><stop offset="0.8162" stop-color="rgb(138,138,138)"/><stop offset="0.9865" stop-color="rgb(128,128,128)"/></linearGradient><g filter="url(#gf)" style="mix-blend-mode:lighten" opacity="0.30"><rect x="403.50" y="467.36" width="296.00" height="14.80" fill="url(#wg407_416)"/></g><g filter="url(#g1)" style="mix-blend-mode:lighten"><rect x="403.50" y="471.06" width="296.00" height="7.40" fill="url(#wg407_416)"/></g><g filter="url(#gr3)" style="mix-blend-mode:lighten"><ellipse cx="624.00" cy="487.29" rx="16" ry="6.8" fill="none" stroke="rgb(51,51,51)" stroke-width="5"/></g><linearGradient id="rg9" gradientUnits="userSpaceOnUse" x1="442.76" x2="492.76" y1="0" y2="0"><stop offset="0.000" stop-color="rgb(38,38,38)"/><stop offset="0.020" stop-color="rgb(44,44,44)"/><stop offset="0.080" stop-color="rgb(59,59,59)"/><stop offset="0.160" stop-color="rgb(74,74,74)"/><stop offset="0.240" stop-color="rgb(86,86,86)"/><stop offset="0.400" stop-color="rgb(100,100,100)"/><stop offset="0.500" stop-color="rgb(105,105,105)"/><stop offset="0.600" stop-color="rgb(100,100,100)"/><stop offset="0.760" stop-color="rgb(86,86,86)"/><stop offset="0.840" stop-color="rgb(74,74,74)"/><stop offset="0.920" stop-color="rgb(59,59,59)"/><stop offset="0.980" stop-color="rgb(44,44,44)"/><stop offset="1.000" stop-color="rgb(38,38,38)"/></linearGradient><g filter="url(#gf)" style="mix-blend-mode:lighten"><ellipse cx="468.06" cy="460.04" rx="21.00" ry="10.50" fill="rgb(11,11,11)"/></g><g filter="url(#g3)" style="mix-blend-mode:lighten"><path d="M445.30,455.74 L445.53,454.82 L445.82,453.97 L446.17,453.16 L446.58,452.38 L447.04,451.65 L447.57,450.96 L448.15,450.30 L448.79,449.68 L449.48,449.09 L450.23,448.54 L451.03,448.02 L451.89,447.54 L452.80,447.10 L453.77,446.69 L454.79,446.32 L455.87,445.99 L457.00,445.70 L458.19,445.44 L459.45,445.23 L460.78,445.05 L462.20,444.91 L463.73,444.81 L465.44,444.76 L467.76,444.74 L470.08,444.76 L471.79,444.81 L473.32,444.91 L474.74,445.05 L476.07,445.23 L477.33,445.44 L478.52,445.70 L479.65,445.99 L480.73,446.32 L481.75,446.69 L482.72,447.10 L483.63,447.54 L484.49,448.02 L485.29,448.54 L486.04,449.09 L486.73,449.68 L487.37,450.30 L487.95,450.96 L488.48,451.65 L488.94,452.38 L489.35,453.16 L489.70,453.97 L489.99,454.82 L490.22,455.74 L486.09,455.74 L485.68,455.30 L485.23,454.87 L484.74,454.45 L484.21,454.05 L483.64,453.66 L483.04,453.28 L482.40,452.92 L481.72,452.58 L481.02,452.25 L480.28,451.94 L479.51,451.64 L478.71,451.37 L477.89,451.11 L477.05,450.88 L476.18,450.67 L475.30,450.47 L474.39,450.30 L473.48,450.15 L472.54,450.03 L471.60,449.92 L470.65,449.84 L469.69,449.78 L468.73,449.75 L467.76,449.74 L466.79,449.75 L465.83,449.78 L464.87,449.84 L463.92,449.92 L462.98,450.03 L462.04,450.15 L461.13,450.30 L460.22,450.47 L459.34,450.67 L458.47,450.88 L457.63,451.11 L456.81,451.37 L456.01,451.64 L455.24,451.94 L454.50,452.25 L453.80,452.58 L453.12,452.92 L452.48,453.28 L451.88,453.66 L451.31,454.05 L450.78,454.45 L450.29,454.87 L449.84,455.30 L449.43,455.74Z" fill="url(#rg9)"/><path d="M445.38,462.14 L445.58,462.84 L445.84,463.50 L446.17,464.12 L446.56,464.71 L447.01,465.27 L447.53,465.80 L448.11,466.30 L448.75,466.77 L449.45,467.22 L450.21,467.64 L451.03,468.03 L451.90,468.40 L452.84,468.74 L453.83,469.04 L454.89,469.33 L456.00,469.58 L457.17,469.80 L458.41,469.99 L459.72,470.16 L461.10,470.29 L462.57,470.40 L464.17,470.48 L465.95,470.52 L468.36,470.54 L470.77,470.52 L472.55,470.48 L474.15,470.40 L475.62,470.29 L477.00,470.16 L478.31,469.99 L479.55,469.80 L480.72,469.58 L481.83,469.33 L482.89,469.04 L483.88,468.74 L484.82,468.40 L485.69,468.03 L486.51,467.64 L487.27,467.22 L487.97,466.77 L488.61,466.30 L489.19,465.80 L489.71,465.27 L490.16,464.71 L490.55,464.12 L490.88,463.50 L491.14,462.84 L491.34,462.14 L485.30,462.14 L484.89,462.35 L484.44,462.56 L483.96,462.76 L483.45,462.96 L482.90,463.15 L482.32,463.33 L481.72,463.50 L481.09,463.67 L480.43,463.83 L479.74,463.98 L479.03,464.12 L478.30,464.25 L477.55,464.37 L476.77,464.49 L475.98,464.59 L475.18,464.68 L474.36,464.76 L473.52,464.84 L472.68,464.90 L471.83,464.95 L470.97,464.99 L470.10,465.01 L469.23,465.03 L468.36,465.04 L467.49,465.03 L466.62,465.01 L465.75,464.99 L464.89,464.95 L464.04,464.90 L463.20,464.84 L462.36,464.76 L461.54,464.68 L460.74,464.59 L459.95,464.49 L459.17,464.37 L458.42,464.25 L457.69,464.12 L456.98,463.98 L456.29,463.83 L455.63,463.67 L455.00,463.50 L454.40,463.33 L453.82,463.15 L453.27,462.96 L452.76,462.76 L452.28,462.56 L451.83,462.35 L451.42,462.14Z" fill="url(#rg9)"/></g><linearGradient id="rg10" gradientUnits="userSpaceOnUse" x1="526.10" x2="576.10" y1="0" y2="0"><stop offset="0.000" stop-color="rgb(40,40,40)"/><stop offset="0.020" stop-color="rgb(47,47,47)"/><stop offset="0.080" stop-color="rgb(63,63,63)"/><stop offset="0.160" stop-color="rgb(78,78,78)"/><stop offset="0.240" stop-color="rgb(92,92,92)"/><stop offset="0.400" stop-color="rgb(106,106,106)"/><stop offset="0.500" stop-color="rgb(112,112,112)"/><stop offset="0.600" stop-color="rgb(106,106,106)"/><stop offset="0.760" stop-color="rgb(92,92,92)"/><stop offset="0.840" stop-color="rgb(78,78,78)"/><stop offset="0.920" stop-color="rgb(63,63,63)"/><stop offset="0.980" stop-color="rgb(47,47,47)"/><stop offset="1.000" stop-color="rgb(40,40,40)"/></linearGradient><g filter="url(#gf)" style="mix-blend-mode:lighten"><ellipse cx="551.40" cy="460.04" rx="21.00" ry="10.50" fill="rgb(11,11,11)"/></g><g filter="url(#g3)" style="mix-blend-mode:lighten"><path d="M528.64,455.74 L528.87,454.82 L529.16,453.97 L529.51,453.16 L529.92,452.38 L530.38,451.65 L530.91,450.96 L531.49,450.30 L532.13,449.68 L532.82,449.09 L533.57,448.54 L534.37,448.02 L535.23,447.54 L536.14,447.10 L537.11,446.69 L538.13,446.32 L539.21,445.99 L540.34,445.70 L541.53,445.44 L542.79,445.23 L544.12,445.05 L545.54,444.91 L547.07,444.81 L548.78,444.76 L551.10,444.74 L553.42,444.76 L555.13,444.81 L556.66,444.91 L558.08,445.05 L559.41,445.23 L560.67,445.44 L561.86,445.70 L562.99,445.99 L564.07,446.32 L565.09,446.69 L566.06,447.10 L566.97,447.54 L567.83,448.02 L568.63,448.54 L569.38,449.09 L570.07,449.68 L570.71,450.30 L571.29,450.96 L571.82,451.65 L572.28,452.38 L572.69,453.16 L573.04,453.97 L573.33,454.82 L573.56,455.74 L569.43,455.74 L569.02,455.30 L568.57,454.87 L568.08,454.45 L567.55,454.05 L566.98,453.66 L566.38,453.28 L565.74,452.92 L565.06,452.58 L564.36,452.25 L563.62,451.94 L562.85,451.64 L562.05,451.37 L561.23,451.11 L560.39,450.88 L559.52,450.67 L558.64,450.47 L557.73,450.30 L556.82,450.15 L555.88,450.03 L554.94,449.92 L553.99,449.84 L553.03,449.78 L552.07,449.75 L551.10,449.74 L550.13,449.75 L549.17,449.78 L548.21,449.84 L547.26,449.92 L546.32,450.03 L545.38,450.15 L544.47,450.30 L543.56,450.47 L542.68,450.67 L541.81,450.88 L540.97,451.11 L540.15,451.37 L539.35,451.64 L538.58,451.94 L537.84,452.25 L537.14,452.58 L536.46,452.92 L535.82,453.28 L535.22,453.66 L534.65,454.05 L534.12,454.45 L533.63,454.87 L533.18,455.30 L532.77,455.74Z" fill="url(#rg10)"/><path d="M528.72,462.14 L528.92,462.84 L529.18,463.50 L529.51,464.12 L529.90,464.71 L530.35,465.27 L530.87,465.80 L531.45,466.30 L532.09,466.77 L532.79,467.22 L533.55,467.64 L534.37,468.03 L535.24,468.40 L536.18,468.74 L537.17,469.04 L538.23,469.33 L539.34,469.58 L540.51,469.80 L541.75,469.99 L543.06,470.16 L544.44,470.29 L545.91,470.40 L547.51,470.48 L549.29,470.52 L551.70,470.54 L554.11,470.52 L555.89,470.48 L557.49,470.40 L558.96,470.29 L560.34,470.16 L561.65,469.99 L562.89,469.80 L564.06,469.58 L565.17,469.33 L566.23,469.04 L567.22,468.74 L568.16,468.40 L569.03,468.03 L569.85,467.64 L570.61,467.22 L571.31,466.77 L571.95,466.30 L572.53,465.80 L573.05,465.27 L573.50,464.71 L573.89,464.12 L574.22,463.50 L574.48,462.84 L574.68,462.14 L568.64,462.14 L568.23,462.35 L567.78,462.56 L567.30,462.76 L566.79,462.96 L566.24,463.15 L565.66,463.33 L565.06,463.50 L564.43,463.67 L563.77,463.83 L563.08,463.98 L562.37,464.12 L561.64,464.25 L560.89,464.37 L560.11,464.49 L559.32,464.59 L558.52,464.68 L557.70,464.76 L556.86,464.84 L556.02,464.90 L555.17,464.95 L554.31,464.99 L553.44,465.01 L552.57,465.03 L551.70,465.04 L550.83,465.03 L549.96,465.01 L549.09,464.99 L548.23,464.95 L547.38,464.90 L546.54,464.84 L545.70,464.76 L544.88,464.68 L544.08,464.59 L543.29,464.49 L542.51,464.37 L541.76,464.25 L541.03,464.12 L540.32,463.98 L539.63,463.83 L538.97,463.67 L538.34,463.50 L537.74,463.33 L537.16,463.15 L536.61,462.96 L536.10,462.76 L535.62,462.56 L535.17,462.35 L534.76,462.14Z" fill="url(#rg10)"/></g>
</g></g>
<rect x="407.50" y="416.00" width="288.00" height="115.60" fill="none" stroke="#000033" stroke-width="0.8"/>
<path d="M425.50,531.60v-2.2 M443.50,531.60v-2.2 M461.50,531.60v-2.2 M479.50,531.60v-2.2 M497.50,531.60v-2.2 M515.50,531.60v-2.2 M533.50,531.60v-2.2 M551.50,531.60v-2.2 M569.50,531.60v-2.2 M587.50,531.60v-2.2 M605.50,531.60v-2.2 M623.50,531.60v-2.2 M641.50,531.60v-2.2 M659.50,531.60v-2.2 M677.50,531.60v-2.2 M407.50,521.97h2.2 M407.50,512.33h2.2 M407.50,502.70h2.2 M407.50,493.07h2.2 M407.50,483.43h2.2 M407.50,473.80h2.2 M407.50,464.17h2.2 M407.50,454.53h2.2 M407.50,444.90h2.2 M407.50,435.27h2.2 M407.50,425.63h2.2" stroke="#000" stroke-width="0.8" fill="none"/>
<path d="M407.50,531.60V413.00 M407.50,531.60H698.50" stroke="#000" stroke-width="0.8"/>
<path d="M407.50,404.30L404.50,413.20L410.50,413.20Z" fill="#000"/>
<path d="M707.10,531.60L698.30,528.80L698.30,534.40Z" fill="#000"/>
<g font-family="Liberation Sans" font-size="9.40" fill="#222"><text transform="translate(407.50,540.20) scale(0.820,1)" text-anchor="middle">-800</text><text transform="translate(443.50,540.20) scale(0.820,1)" text-anchor="middle">-600</text><text transform="translate(479.50,540.20) scale(0.820,1)" text-anchor="middle">-400</text><text transform="translate(515.50,540.20) scale(0.820,1)" text-anchor="middle">-200</text><text transform="translate(551.50,540.20) scale(0.820,1)" text-anchor="middle">0</text><text transform="translate(587.50,540.20) scale(0.820,1)" text-anchor="middle">200</text><text transform="translate(623.50,540.20) scale(0.820,1)" text-anchor="middle">400</text><text transform="translate(659.50,540.20) scale(0.820,1)" text-anchor="middle">600</text><text transform="translate(695.50,540.20) scale(0.820,1)" text-anchor="middle">800</text><text transform="translate(405.20,457.73) scale(0.820,1)" text-anchor="end">200</text><text transform="translate(405.20,496.27) scale(0.820,1)" text-anchor="end">-200</text><text transform="translate(405.20,534.80) scale(0.820,1)" text-anchor="end">-600</text></g>
<text x="551.50" y="548.60" text-anchor="middle" font-family="Liberation Sans" font-size="9.2" fill="#222">x(nm)</text>
<text transform="translate(373.70,473.80) rotate(-90)" text-anchor="middle" font-family="Liberation Sans" font-size="9.2" fill="#222">y(nm)</text>
<text x="409.40" y="429.60" font-family="Liberation Serif" font-weight="bold" font-size="13" fill="#fff">(f)</text>
<g font-family="Liberation Serif" font-weight="bold" font-size="13.6" fill="#fff"><text x="488.30" y="522.80" textLength="54.6" lengthAdjust="spacingAndGlyphs">Pump ON</text><text x="551.60" y="522.80" textLength="60.6" lengthAdjust="spacingAndGlyphs">&#955;=1538nm</text></g>
<rect x="702.10" y="421.60" width="6" height="103.70" fill="url(#jetgrad)"/>
<path d="M702.10,525.30H710.70 M702.10,504.56H710.70 M702.10,483.82H710.70 M702.10,463.08H710.70 M702.10,442.34H710.70 M702.10,421.60H710.70" stroke="#000" stroke-width="0.8"/>
<g font-family="Liberation Sans" font-size="9.40" fill="#222"><text transform="translate(711.10,528.50) scale(0.820,1)">0.0</text><text transform="translate(711.10,507.76) scale(0.820,1)">0.2</text><text transform="translate(711.10,487.02) scale(0.820,1)">0.4</text><text transform="translate(711.10,466.28) scale(0.820,1)">0.6</text><text transform="translate(711.10,445.54) scale(0.820,1)">0.8</text><text transform="translate(711.10,424.80) scale(0.820,1)">1.0</text></g>
<clipPath id="clip_g"><rect x="407.50" y="568.00" width="288.00" height="115.60"/></clipPath>
<g clip-path="url(#clip_g)"><g filter="url(#jet)">
<rect x="402.50" y="563.00" width="298.00" height="125.60" fill="rgb(0,0,0)"/>
<linearGradient id="wg407_568" gradientUnits="userSpaceOnUse" x1="403.50" x2="699.50" y1="0" y2="0"><stop offset="0.0135" stop-color="rgb(76,76,76)"/><stop offset="0.1230" stop-color="rgb(76,76,76)"/><stop offset="0.1230" stop-color="rgb(71,71,71)"/><stop offset="0.1777" stop-color="rgb(48,48,48)"/><stop offset="0.1777" stop-color="rgb(48,48,48)"/><stop offset="0.2203" stop-color="rgb(64,64,64)"/><stop offset="0.2203" stop-color="rgb(64,64,64)"/><stop offset="0.3905" stop-color="rgb(64,64,64)"/><stop offset="0.3905" stop-color="rgb(64,64,64)"/><stop offset="0.4392" stop-color="rgb(13,13,13)"/><stop offset="0.4392" stop-color="rgb(13,13,13)"/><stop offset="0.5608" stop-color="rgb(18,18,18)"/><stop offset="0.5608" stop-color="rgb(18,18,18)"/><stop offset="0.6824" stop-color="rgb(20,20,20)"/><stop offset="0.6824" stop-color="rgb(23,23,23)"/><stop offset="0.9865" stop-color="rgb(26,26,26)"/></linearGradient><g filter="url(#gf)" style="mix-blend-mode:lighten" opacity="0.30"><rect x="403.50" y="619.36" width="296.00" height="14.80" fill="url(#wg407_568)"/></g><g filter="url(#g1)" style="mix-blend-mode:lighten"><rect x="403.50" y="623.06" width="296.00" height="7.40" fill="url(#wg407_568)"/></g><linearGradient id="rg11" gradientUnits="userSpaceOnUse" x1="442.26" x2="492.26" y1="0" y2="0"><stop offset="0.000" stop-color="rgb(13,13,13)"/><stop offset="0.080" stop-color="rgb(24,24,24)"/><stop offset="0.160" stop-color="rgb(32,32,32)"/><stop offset="0.260" stop-color="rgb(41,41,41)"/><stop offset="0.380" stop-color="rgb(48,48,48)"/><stop offset="0.500" stop-color="rgb(51,51,51)"/><stop offset="0.620" stop-color="rgb(48,48,48)"/><stop offset="0.740" stop-color="rgb(41,41,41)"/><stop offset="0.840" stop-color="rgb(32,32,32)"/><stop offset="0.920" stop-color="rgb(24,24,24)"/><stop offset="1.000" stop-color="rgb(13,13,13)"/></linearGradient><g filter="url(#gf)" style="mix-blend-mode:lighten"><path d="M445.27,608.74 L445.57,607.96 L445.95,607.19 L446.39,606.43 L446.90,605.70 L447.47,604.98 L448.11,604.28 L448.80,603.61 L449.56,602.97 L450.38,602.35 L451.24,601.76 L452.16,601.21 L453.13,600.68 L454.14,600.20 L455.20,599.75 L456.29,599.34 L457.42,598.97 L458.58,598.63 L459.77,598.35 L460.98,598.10 L462.21,597.90 L463.46,597.74 L464.72,597.63 L465.99,597.56 L467.26,597.54 L468.53,597.56 L469.80,597.63 L471.06,597.74 L472.31,597.90 L473.54,598.10 L474.75,598.35 L475.94,598.63 L477.10,598.97 L478.23,599.34 L479.32,599.75 L480.38,600.20 L481.39,600.68 L482.36,601.21 L483.28,601.76 L484.14,602.35 L484.96,602.97 L485.72,603.61 L486.41,604.28 L487.05,604.98 L487.62,605.70 L488.13,606.43 L488.57,607.19 L488.95,607.96 L489.25,608.74 L482.86,608.74 L482.56,608.29 L482.22,607.86 L481.84,607.43 L481.42,607.02 L480.97,606.62 L480.48,606.23 L479.95,605.85 L479.39,605.50 L478.80,605.16 L478.17,604.83 L477.52,604.53 L476.84,604.24 L476.13,603.98 L475.40,603.73 L474.65,603.51 L473.88,603.31 L473.09,603.13 L472.29,602.97 L471.47,602.84 L470.64,602.73 L469.80,602.65 L468.96,602.58 L468.11,602.55 L467.26,602.54 L466.41,602.55 L465.56,602.58 L464.72,602.65 L463.88,602.73 L463.05,602.84 L462.23,602.97 L461.43,603.13 L460.64,603.31 L459.87,603.51 L459.12,603.73 L458.39,603.98 L457.68,604.24 L457.00,604.53 L456.35,604.83 L455.72,605.16 L455.13,605.50 L454.57,605.85 L454.04,606.23 L453.55,606.62 L453.10,607.02 L452.68,607.43 L452.30,607.86 L451.96,608.29 L451.66,608.74Z" fill="url(#rg11)"/><path d="M447.23,615.24 L447.59,615.87 L448.00,616.49 L448.47,617.09 L448.99,617.68 L449.57,618.26 L450.20,618.81 L450.89,619.35 L451.62,619.86 L452.39,620.35 L453.21,620.81 L454.08,621.25 L454.98,621.66 L455.92,622.05 L456.89,622.40 L457.90,622.72 L458.93,623.02 L459.99,623.28 L461.07,623.50 L462.17,623.69 L463.29,623.85 L464.42,623.98 L465.56,624.06 L466.71,624.12 L467.86,624.14 L469.01,624.12 L470.16,624.06 L471.30,623.98 L472.43,623.85 L473.55,623.69 L474.65,623.50 L475.73,623.28 L476.79,623.02 L477.82,622.72 L478.83,622.40 L479.80,622.05 L480.74,621.66 L481.64,621.25 L482.51,620.81 L483.33,620.35 L484.10,619.86 L484.83,619.35 L485.52,618.81 L486.15,618.26 L486.73,617.68 L487.25,617.09 L487.72,616.49 L488.13,615.87 L488.49,615.24 L481.96,615.24 L481.60,615.52 L481.22,615.81 L480.81,616.08 L480.38,616.34 L479.92,616.60 L479.43,616.85 L478.93,617.08 L478.40,617.30 L477.84,617.52 L477.27,617.72 L476.68,617.91 L476.07,618.09 L475.45,618.25 L474.81,618.40 L474.15,618.54 L473.49,618.66 L472.81,618.77 L472.12,618.87 L471.42,618.95 L470.72,619.02 L470.01,619.07 L469.30,619.11 L468.58,619.13 L467.86,619.14 L467.14,619.13 L466.42,619.11 L465.71,619.07 L465.00,619.02 L464.30,618.95 L463.60,618.87 L462.91,618.77 L462.23,618.66 L461.57,618.54 L460.91,618.40 L460.27,618.25 L459.65,618.09 L459.04,617.91 L458.45,617.72 L457.88,617.52 L457.32,617.30 L456.79,617.08 L456.29,616.85 L455.80,616.60 L455.34,616.34 L454.91,616.08 L454.50,615.81 L454.12,615.52 L453.76,615.24Z" fill="url(#rg11)"/></g><g filter="url(#gr3)" style="mix-blend-mode:lighten"><ellipse cx="624.00" cy="639.29" rx="16" ry="6.8" fill="none" stroke="rgb(5,5,5)" stroke-width="5"/></g><linearGradient id="rg12" gradientUnits="userSpaceOnUse" x1="526.10" x2="576.10" y1="0" y2="0"><stop offset="0.000" stop-color="rgb(19,19,19)"/><stop offset="0.020" stop-color="rgb(31,31,31)"/><stop offset="0.060" stop-color="rgb(59,59,59)"/><stop offset="0.120" stop-color="rgb(86,86,86)"/><stop offset="0.220" stop-color="rgb(120,120,120)"/><stop offset="0.340" stop-color="rgb(138,138,138)"/><stop offset="0.500" stop-color="rgb(156,156,156)"/><stop offset="0.660" stop-color="rgb(138,138,138)"/><stop offset="0.780" stop-color="rgb(120,120,120)"/><stop offset="0.880" stop-color="rgb(86,86,86)"/><stop offset="0.940" stop-color="rgb(59,59,59)"/><stop offset="0.980" stop-color="rgb(31,31,31)"/><stop offset="1.000" stop-color="rgb(19,19,19)"/></linearGradient><g filter="url(#gf)" style="mix-blend-mode:lighten"><ellipse cx="551.40" cy="612.04" rx="21.00" ry="10.50" fill="rgb(15,15,15)"/></g><g filter="url(#g3b)" style="mix-blend-mode:lighten"><path d="M526.41,608.24 L526.80,607.50 L527.26,606.77 L527.79,606.06 L528.39,605.37 L529.06,604.69 L529.80,604.04 L530.60,603.41 L531.47,602.80 L532.39,602.22 L533.37,601.67 L534.40,601.15 L535.48,600.67 L536.61,600.21 L537.79,599.79 L539.00,599.41 L540.25,599.07 L541.54,598.76 L542.85,598.49 L544.19,598.26 L545.54,598.07 L546.92,597.92 L548.30,597.82 L549.70,597.76 L551.10,597.74 L552.50,597.76 L553.90,597.82 L555.28,597.92 L556.66,598.07 L558.01,598.26 L559.35,598.49 L560.66,598.76 L561.95,599.07 L563.20,599.41 L564.41,599.79 L565.59,600.21 L566.72,600.67 L567.80,601.15 L568.83,601.67 L569.81,602.22 L570.73,602.80 L571.60,603.41 L572.40,604.04 L573.14,604.69 L573.81,605.37 L574.41,606.06 L574.94,606.77 L575.40,607.50 L575.79,608.24 L567.98,608.24 L567.65,607.76 L567.27,607.29 L566.84,606.84 L566.38,606.40 L565.88,605.97 L565.34,605.56 L564.76,605.16 L564.15,604.78 L563.51,604.42 L562.83,604.08 L562.12,603.75 L561.39,603.45 L560.63,603.17 L559.84,602.91 L559.03,602.67 L558.20,602.45 L557.36,602.26 L556.49,602.10 L555.61,601.96 L554.73,601.84 L553.83,601.75 L552.92,601.69 L552.01,601.65 L551.10,601.64 L550.19,601.65 L549.28,601.69 L548.37,601.75 L547.47,601.84 L546.59,601.96 L545.71,602.10 L544.84,602.26 L544.00,602.45 L543.17,602.67 L542.36,602.91 L541.57,603.17 L540.81,603.45 L540.08,603.75 L539.37,604.08 L538.69,604.42 L538.05,604.78 L537.44,605.16 L536.86,605.56 L536.32,605.97 L535.82,606.40 L535.36,606.84 L534.93,607.29 L534.55,607.76 L534.22,608.24Z" fill="url(#rg12)"/><path d="M528.08,614.74 L528.47,615.32 L528.92,615.90 L529.45,616.46 L530.03,617.01 L530.69,617.54 L531.40,618.06 L532.17,618.56 L533.00,619.04 L533.89,619.50 L534.83,619.93 L535.82,620.34 L536.85,620.72 L537.93,621.08 L539.05,621.41 L540.21,621.71 L541.40,621.99 L542.62,622.23 L543.86,622.44 L545.14,622.62 L546.42,622.77 L547.73,622.89 L549.05,622.97 L550.37,623.02 L551.70,623.04 L553.03,623.02 L554.35,622.97 L555.67,622.89 L556.98,622.77 L558.26,622.62 L559.54,622.44 L560.78,622.23 L562.00,621.99 L563.19,621.71 L564.35,621.41 L565.47,621.08 L566.55,620.72 L567.58,620.34 L568.57,619.93 L569.51,619.50 L570.40,619.04 L571.23,618.56 L572.00,618.06 L572.71,617.54 L573.37,617.01 L573.95,616.46 L574.48,615.90 L574.93,615.32 L575.32,614.74 L567.39,614.74 L567.05,615.08 L566.68,615.43 L566.27,615.76 L565.82,616.08 L565.34,616.39 L564.82,616.69 L564.28,616.98 L563.70,617.26 L563.10,617.52 L562.47,617.77 L561.81,618.01 L561.13,618.23 L560.43,618.43 L559.70,618.62 L558.96,618.79 L558.19,618.94 L557.42,619.08 L556.63,619.20 L555.82,619.30 L555.01,619.39 L554.19,619.45 L553.36,619.50 L552.53,619.53 L551.70,619.54 L550.87,619.53 L550.04,619.50 L549.21,619.45 L548.39,619.39 L547.58,619.30 L546.77,619.20 L545.98,619.08 L545.21,618.94 L544.44,618.79 L543.70,618.62 L542.97,618.43 L542.27,618.23 L541.59,618.01 L540.93,617.77 L540.30,617.52 L539.70,617.26 L539.12,616.98 L538.58,616.69 L538.06,616.39 L537.58,616.08 L537.13,615.76 L536.72,615.43 L536.35,615.08 L536.01,614.74Z" fill="url(#rg12)"/></g>
</g></g>
<rect x="407.50" y="568.00" width="288.00" height="115.60" fill="none" stroke="#000033" stroke-width="0.8"/>
<path d="M425.50,683.60v-2.2 M443.50,683.60v-2.2 M461.50,683.60v-2.2 M479.50,683.60v-2.2 M497.50,683.60v-2.2 M515.50,683.60v-2.2 M533.50,683.60v-2.2 M551.50,683.60v-2.2 M569.50,683.60v-2.2 M587.50,683.60v-2.2 M605.50,683.60v-2.2 M623.50,683.60v-2.2 M641.50,683.60v-2.2 M659.50,683.60v-2.2 M677.50,683.60v-2.2 M407.50,673.97h2.2 M407.50,664.33h2.2 M407.50,654.70h2.2 M407.50,645.07h2.2 M407.50,635.43h2.2 M407.50,625.80h2.2 M407.50,616.17h2.2 M407.50,606.53h2.2 M407.50,596.90h2.2 M407.50,587.27h2.2 M407.50,577.63h2.2" stroke="#000" stroke-width="0.8" fill="none"/>
<path d="M407.50,683.60V565.00 M407.50,683.60H698.50" stroke="#000" stroke-width="0.8"/>
<path d="M407.50,556.30L404.50,565.20L410.50,565.20Z" fill="#000"/>
<path d="M707.10,683.60L698.30,680.80L698.30,686.40Z" fill="#000"/>
<g font-family="Liberation Sans" font-size="9.40" fill="#222"><text transform="translate(407.50,692.20) scale(0.820,1)" text-anchor="middle">-800</text><text transform="translate(443.50,692.20) scale(0.820,1)" text-anchor="middle">-600</text><text transform="translate(479.50,692.20) scale(0.820,1)" text-anchor="middle">-400</text><text transform="translate(515.50,692.20) scale(0.820,1)" text-anchor="middle">-200</text><text transform="translate(551.50,692.20) scale(0.820,1)" text-anchor="middle">0</text><text transform="translate(587.50,692.20) scale(0.820,1)" text-anchor="middle">200</text><text transform="translate(623.50,692.20) scale(0.820,1)" text-anchor="middle">400</text><text transform="translate(659.50,692.20) scale(0.820,1)" text-anchor="middle">600</text><text transform="translate(695.50,692.20) scale(0.820,1)" text-anchor="middle">800</text><text transform="translate(405.20,609.73) scale(0.820,1)" text-anchor="end">200</text><text transform="translate(405.20,648.27) scale(0.820,1)" text-anchor="end">-200</text><text transform="translate(405.20,686.80) scale(0.820,1)" text-anchor="end">-600</text></g>
<text x="551.50" y="700.60" text-anchor="middle" font-family="Liberation Sans" font-size="9.2" fill="#222">x(nm)</text>
<text transform="translate(373.70,625.80) rotate(-90)" text-anchor="middle" font-family="Liberation Sans" font-size="9.2" fill="#222">y(nm)</text>
<text x="409.40" y="581.60" font-family="Liberation Serif" font-weight="bold" font-size="13" fill="#fff">(g)</text>
<g font-family="Liberation Serif" font-weight="bold" font-size="13.6" fill="#fff"><text x="488.30" y="674.80" textLength="54.6" lengthAdjust="spacingAndGlyphs">Pump ON</text><text x="551.60" y="674.80" textLength="60.6" lengthAdjust="spacingAndGlyphs">&#955;=1600nm</text></g>
<rect x="702.10" y="573.60" width="6" height="103.70" fill="url(#jetgrad)"/>
<path d="M702.10,677.30H710.70 M702.10,656.56H710.70 M702.10,635.82H710.70 M702.10,615.08H710.70 M702.10,594.34H710.70 M702.10,573.60H710.70" stroke="#000" stroke-width="0.8"/>
<g font-family="Liberation Sans" font-size="9.40" fill="#222"><text transform="translate(711.10,680.50) scale(0.820,1)">0.0</text><text transform="translate(711.10,659.76) scale(0.820,1)">0.2</text><text transform="translate(711.10,639.02) scale(0.820,1)">0.4</text><text transform="translate(711.10,618.28) scale(0.820,1)">0.6</text><text transform="translate(711.10,597.54) scale(0.820,1)">0.8</text><text transform="translate(711.10,576.80) scale(0.820,1)">1.0</text></g>
</svg></body></html>
